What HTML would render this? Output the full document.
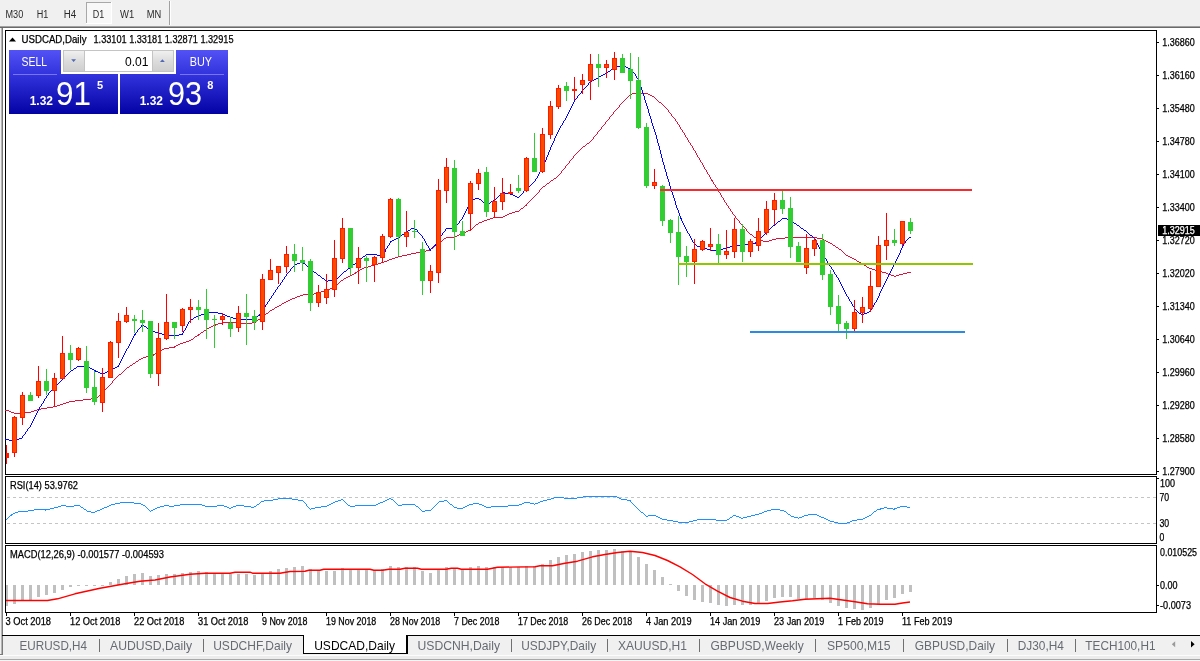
<!DOCTYPE html>
<html><head><meta charset="utf-8"><title>USDCAD,Daily</title>
<style>html,body{margin:0;padding:0;background:#fff;overflow:hidden}svg{display:block}</style></head>
<body>
<svg width="1200" height="661" viewBox="0 0 1200 661" font-family='"Liberation Sans", sans-serif'>
<defs><linearGradient id="gb" x1="0" y1="0" x2="0" y2="1"><stop offset="0" stop-color="#5252f6"/><stop offset="1" stop-color="#3232dc"/></linearGradient><linearGradient id="gp" x1="0" y1="0" x2="0" y2="1"><stop offset="0" stop-color="#3434de"/><stop offset="1" stop-color="#0202a4"/></linearGradient><linearGradient id="gs" x1="0" y1="0" x2="0" y2="1"><stop offset="0" stop-color="#f0f0f0"/><stop offset="0.5" stop-color="#dcdcdc"/><stop offset="1" stop-color="#cfcfcf"/></linearGradient></defs>
<rect x="0" y="0" width="1200" height="661" fill="#fff" />
<g shape-rendering="crispEdges">
<rect x="0" y="0" width="1200" height="26" fill="#f0f0f0" />
<rect x="0" y="26" width="1200" height="1" fill="#a0a0a0" />
<rect x="0" y="27" width="1200" height="1" fill="#696969" />
<rect x="86" y="2" width="26" height="22" fill="#f8f8f8" />
<rect x="86" y="2" width="26" height="1" fill="#a8a8a8" />
<rect x="86" y="2" width="1" height="22" fill="#a8a8a8" />
<rect x="111" y="2" width="1" height="22" fill="#fff" />
<rect x="86" y="23" width="26" height="1" fill="#fff" />
<rect x="169" y="1" width="1" height="24" fill="#a0a0a0" />
<rect x="170" y="1" width="1" height="24" fill="#fff" />
<rect x="0" y="28" width="1" height="608" fill="#f0f0f0" />
<rect x="1" y="28" width="1" height="626" fill="#b4b4b4" />
<rect x="2" y="28" width="1" height="626" fill="#7a7a7a" />
</g>
<text x="5.5" y="18" font-size="10" fill="#2a2a2a" textLength="17.7" lengthAdjust="spacingAndGlyphs" stroke-width="0">M30</text>
<text x="36.7" y="18" font-size="10" fill="#2a2a2a" textLength="11.6" lengthAdjust="spacingAndGlyphs" stroke-width="0">H1</text>
<text x="63.7" y="18" font-size="10" fill="#2a2a2a" textLength="12.5" lengthAdjust="spacingAndGlyphs" stroke-width="0">H4</text>
<text x="92.7" y="18" font-size="10" fill="#2a2a2a" textLength="11.5" lengthAdjust="spacingAndGlyphs" stroke-width="0">D1</text>
<text x="120" y="18" font-size="10" fill="#2a2a2a" textLength="14.2" lengthAdjust="spacingAndGlyphs" stroke-width="0">W1</text>
<text x="146.7" y="18" font-size="10" fill="#2a2a2a" textLength="14.5" lengthAdjust="spacingAndGlyphs" stroke-width="0">MN</text>
<g shape-rendering="crispEdges" fill="none" stroke="#000" stroke-width="1">
<rect x="5.5" y="30.5" width="1151" height="444"/>
<rect x="5.5" y="476.5" width="1151" height="67"/>
<rect x="5.5" y="545.5" width="1151" height="67"/>
</g>
<path fill="#dc143c" shape-rendering="crispEdges" d="M5 410h1v1h-1zM6 410h1v1h-1zM7 410h1v1h-1zM8 410h1v1h-1zM9 411h1v1h-1zM10 411h1v1h-1zM11 412h1v1h-1zM12 412h1v1h-1zM13 412h1v1h-1zM14 413h1v1h-1zM15 413h1v1h-1zM16 413h1v1h-1zM17 413h1v1h-1zM18 413h1v1h-1zM19 413h1v1h-1zM20 413h1v1h-1zM21 412h1v1h-1zM22 412h1v1h-1zM23 412h1v1h-1zM24 412h1v1h-1zM25 412h1v1h-1zM26 412h1v1h-1zM27 412h1v1h-1zM28 412h1v1h-1zM29 412h1v1h-1zM30 412h1v1h-1zM31 411h1v1h-1zM32 411h1v1h-1zM33 411h1v1h-1zM34 410h1v1h-1zM35 410h1v1h-1zM36 410h1v1h-1zM37 409h1v1h-1zM38 409h1v1h-1zM39 409h1v1h-1zM40 409h1v1h-1zM41 408h1v1h-1zM42 408h1v1h-1zM43 408h1v1h-1zM44 408h1v1h-1zM45 408h1v1h-1zM46 408h1v1h-1zM47 407h1v1h-1zM48 407h1v1h-1zM49 407h1v1h-1zM50 407h1v1h-1zM51 407h1v1h-1zM52 407h1v1h-1zM53 406h1v1h-1zM54 406h1v1h-1zM55 406h1v1h-1zM56 406h1v1h-1zM57 405h1v1h-1zM58 405h1v1h-1zM59 405h1v1h-1zM60 404h1v1h-1zM61 404h1v1h-1zM62 404h1v1h-1zM63 403h1v1h-1zM64 403h1v1h-1zM65 403h1v1h-1zM66 402h1v1h-1zM67 402h1v1h-1zM68 402h1v1h-1zM69 401h1v1h-1zM70 401h1v1h-1zM71 401h1v1h-1zM72 401h1v1h-1zM73 401h1v1h-1zM74 401h1v1h-1zM75 400h1v1h-1zM76 400h1v1h-1zM77 400h1v1h-1zM78 400h1v1h-1zM79 400h1v1h-1zM80 400h1v1h-1zM81 400h1v1h-1zM82 400h1v1h-1zM83 399h1v1h-1zM84 399h1v1h-1zM85 399h1v1h-1zM86 399h1v1h-1zM87 399h1v1h-1zM88 399h1v1h-1zM89 399h1v1h-1zM90 399h1v1h-1zM91 398h1v1h-1zM92 398h1v1h-1zM93 398h1v1h-1zM94 398h1v1h-1zM95 398h1v1h-1zM96 398h1v1h-1zM97 397h1v1h-1zM98 396h1v1h-1zM99 395h1v1h-1zM100 394h1v1h-1zM101 393h1v1h-1zM102 392h1v1h-1zM103 391h1v1h-1zM104 390h1v1h-1zM105 389h1v1h-1zM106 388h1v1h-1zM107 387h1v1h-1zM108 386h1v1h-1zM109 385h1v1h-1zM110 384h1v1h-1zM111 383h1v1h-1zM112 381h1v2h-1zM113 380h1v1h-1zM114 379h1v1h-1zM115 378h1v1h-1zM116 377h1v1h-1zM117 376h1v1h-1zM118 375h1v1h-1zM119 374h1v1h-1zM120 374h1v1h-1zM121 373h1v1h-1zM122 372h1v1h-1zM123 371h1v1h-1zM124 370h1v1h-1zM125 369h1v1h-1zM126 368h1v1h-1zM127 367h1v1h-1zM128 367h1v1h-1zM129 366h1v1h-1zM130 365h1v1h-1zM131 365h1v1h-1zM132 364h1v1h-1zM133 363h1v1h-1zM134 363h1v1h-1zM135 362h1v1h-1zM136 361h1v1h-1zM137 361h1v1h-1zM138 360h1v1h-1zM139 359h1v1h-1zM140 359h1v1h-1zM141 358h1v1h-1zM142 358h1v1h-1zM143 357h1v1h-1zM144 357h1v1h-1zM145 357h1v1h-1zM146 356h1v1h-1zM147 356h1v1h-1zM148 356h1v1h-1zM149 356h1v1h-1zM150 355h1v1h-1zM151 355h1v1h-1zM152 355h1v1h-1zM153 354h1v2h-1zM154 354h1v1h-1zM155 353h1v1h-1zM156 353h1v1h-1zM157 352h1v1h-1zM158 351h1v1h-1zM159 351h1v1h-1zM160 350h1v1h-1zM161 350h1v1h-1zM162 349h1v1h-1zM163 349h1v1h-1zM164 348h1v1h-1zM165 348h1v1h-1zM166 348h1v1h-1zM167 348h1v1h-1zM168 348h1v1h-1zM169 347h1v1h-1zM170 347h1v1h-1zM171 347h1v1h-1zM172 347h1v1h-1zM173 347h1v1h-1zM174 346h1v2h-1zM175 346h1v1h-1zM176 345h1v1h-1zM177 345h1v1h-1zM178 344h1v1h-1zM179 344h1v1h-1zM180 343h1v1h-1zM181 343h1v1h-1zM182 343h1v1h-1zM183 342h1v1h-1zM184 342h1v1h-1zM185 342h1v1h-1zM186 341h1v1h-1zM187 341h1v1h-1zM188 341h1v1h-1zM189 340h1v1h-1zM190 340h1v1h-1zM191 339h1v1h-1zM192 339h1v1h-1zM193 338h1v1h-1zM194 337h1v1h-1zM195 336h1v1h-1zM196 336h1v1h-1zM197 335h1v1h-1zM198 334h1v2h-1zM199 334h1v1h-1zM200 333h1v1h-1zM201 332h1v1h-1zM202 332h1v1h-1zM203 331h1v1h-1zM204 330h1v1h-1zM205 330h1v1h-1zM206 329h1v1h-1zM207 328h1v1h-1zM208 328h1v1h-1zM209 327h1v1h-1zM210 327h1v1h-1zM211 326h1v1h-1zM212 326h1v1h-1zM213 325h1v1h-1zM214 325h1v1h-1zM215 324h1v2h-1zM216 324h1v1h-1zM217 324h1v1h-1zM218 323h1v1h-1zM219 323h1v1h-1zM220 323h1v1h-1zM221 323h1v1h-1zM222 322h1v1h-1zM223 322h1v1h-1zM224 322h1v1h-1zM225 322h1v1h-1zM226 322h1v1h-1zM227 322h1v1h-1zM228 322h1v1h-1zM229 322h1v1h-1zM230 322h1v1h-1zM231 322h1v1h-1zM232 322h1v1h-1zM233 322h1v1h-1zM234 322h1v1h-1zM235 322h1v1h-1zM236 322h1v1h-1zM237 323h1v1h-1zM238 323h1v1h-1zM239 323h1v1h-1zM240 323h1v1h-1zM241 323h1v1h-1zM242 323h1v1h-1zM243 323h1v1h-1zM244 323h1v1h-1zM245 323h1v1h-1zM246 323h1v1h-1zM247 323h1v1h-1zM248 323h1v1h-1zM249 323h1v1h-1zM250 323h1v1h-1zM251 323h1v1h-1zM252 322h1v1h-1zM253 322h1v1h-1zM254 322h1v1h-1zM255 322h1v1h-1zM256 321h1v1h-1zM257 320h1v1h-1zM258 319h1v1h-1zM259 319h1v1h-1zM260 318h1v1h-1zM261 317h1v1h-1zM262 316h1v1h-1zM263 315h1v1h-1zM264 315h1v1h-1zM265 314h1v1h-1zM266 313h1v1h-1zM267 313h1v1h-1zM268 312h1v1h-1zM269 311h1v1h-1zM270 310h1v1h-1zM271 310h1v1h-1zM272 309h1v1h-1zM273 309h1v1h-1zM274 308h1v1h-1zM275 307h1v1h-1zM276 307h1v1h-1zM277 306h1v1h-1zM278 306h1v1h-1zM279 305h1v1h-1zM280 305h1v1h-1zM281 304h1v1h-1zM282 303h1v1h-1zM283 303h1v1h-1zM284 302h1v1h-1zM285 302h1v1h-1zM286 301h1v1h-1zM287 301h1v1h-1zM288 300h1v1h-1zM289 300h1v1h-1zM290 299h1v1h-1zM291 299h1v1h-1zM292 298h1v1h-1zM293 298h1v1h-1zM294 298h1v1h-1zM295 297h1v1h-1zM296 297h1v1h-1zM297 296h1v1h-1zM298 296h1v1h-1zM299 296h1v1h-1zM300 295h1v1h-1zM301 295h1v1h-1zM302 295h1v1h-1zM303 294h1v1h-1zM304 294h1v1h-1zM305 294h1v1h-1zM306 294h1v1h-1zM307 294h1v1h-1zM308 294h1v1h-1zM309 294h1v1h-1zM310 294h1v1h-1zM311 294h1v1h-1zM312 294h1v1h-1zM313 294h1v1h-1zM314 293h1v1h-1zM315 293h1v1h-1zM316 293h1v1h-1zM317 293h1v1h-1zM318 293h1v1h-1zM319 292h1v1h-1zM320 292h1v1h-1zM321 291h1v1h-1zM322 291h1v1h-1zM323 291h1v1h-1zM324 290h1v1h-1zM325 290h1v1h-1zM326 290h1v1h-1zM327 289h1v1h-1zM328 289h1v1h-1zM329 289h1v1h-1zM330 288h1v1h-1zM331 288h1v1h-1zM332 288h1v1h-1zM333 287h1v1h-1zM334 287h1v1h-1zM335 286h1v1h-1zM336 285h1v1h-1zM337 284h1v1h-1zM338 283h1v1h-1zM339 282h1v1h-1zM340 281h1v1h-1zM341 280h1v1h-1zM342 280h1v1h-1zM343 279h1v1h-1zM344 278h1v1h-1zM345 278h1v1h-1zM346 277h1v1h-1zM347 277h1v1h-1zM348 276h1v1h-1zM349 276h1v1h-1zM350 275h1v1h-1zM351 275h1v1h-1zM352 274h1v1h-1zM353 274h1v1h-1zM354 273h1v1h-1zM355 272h1v2h-1zM356 272h1v1h-1zM357 271h1v1h-1zM358 271h1v1h-1zM359 270h1v1h-1zM360 269h1v1h-1zM361 269h1v1h-1zM362 268h1v1h-1zM363 268h1v1h-1zM364 267h1v1h-1zM365 267h1v1h-1zM366 267h1v1h-1zM367 267h1v1h-1zM368 266h1v1h-1zM369 266h1v1h-1zM370 266h1v1h-1zM371 265h1v1h-1zM372 265h1v1h-1zM373 265h1v1h-1zM374 265h1v1h-1zM375 264h1v1h-1zM376 264h1v1h-1zM377 264h1v1h-1zM378 263h1v1h-1zM379 263h1v1h-1zM380 263h1v1h-1zM381 262h1v1h-1zM382 262h1v1h-1zM383 262h1v1h-1zM384 261h1v1h-1zM385 261h1v1h-1zM386 261h1v1h-1zM387 260h1v1h-1zM388 260h1v1h-1zM389 259h1v1h-1zM390 259h1v1h-1zM391 259h1v1h-1zM392 258h1v1h-1zM393 258h1v1h-1zM394 258h1v1h-1zM395 257h1v1h-1zM396 257h1v1h-1zM397 257h1v1h-1zM398 256h1v1h-1zM399 256h1v1h-1zM400 256h1v1h-1zM401 256h1v1h-1zM402 255h1v1h-1zM403 255h1v1h-1zM404 255h1v1h-1zM405 255h1v1h-1zM406 255h1v1h-1zM407 254h1v1h-1zM408 254h1v1h-1zM409 254h1v1h-1zM410 254h1v1h-1zM411 253h1v1h-1zM412 253h1v1h-1zM413 253h1v1h-1zM414 253h1v1h-1zM415 253h1v1h-1zM416 252h1v1h-1zM417 252h1v1h-1zM418 252h1v1h-1zM419 252h1v1h-1zM420 252h1v1h-1zM421 252h1v1h-1zM422 252h1v1h-1zM423 251h1v1h-1zM424 251h1v1h-1zM425 251h1v1h-1zM426 250h1v1h-1zM427 250h1v1h-1zM428 250h1v1h-1zM429 250h1v1h-1zM430 249h1v2h-1zM431 248h1v1h-1zM432 248h1v1h-1zM433 247h1v1h-1zM434 246h1v1h-1zM435 245h1v1h-1zM436 244h1v1h-1zM437 244h1v1h-1zM438 243h1v1h-1zM439 242h1v1h-1zM440 241h1v1h-1zM441 241h1v1h-1zM442 240h1v1h-1zM443 239h1v1h-1zM444 238h1v1h-1zM445 238h1v1h-1zM446 237h1v1h-1zM447 237h1v1h-1zM448 237h1v1h-1zM449 237h1v1h-1zM450 237h1v1h-1zM451 237h1v1h-1zM452 237h1v1h-1zM453 237h1v1h-1zM454 237h1v1h-1zM455 236h1v1h-1zM456 236h1v1h-1zM457 235h1v1h-1zM458 235h1v1h-1zM459 234h1v1h-1zM460 234h1v1h-1zM461 233h1v1h-1zM462 233h1v1h-1zM463 232h1v1h-1zM464 232h1v1h-1zM465 232h1v1h-1zM466 231h1v1h-1zM467 231h1v1h-1zM468 230h1v1h-1zM469 230h1v1h-1zM470 230h1v1h-1zM471 229h1v1h-1zM472 228h1v1h-1zM473 227h1v1h-1zM474 226h1v1h-1zM475 225h1v1h-1zM476 224h1v1h-1zM477 224h1v1h-1zM478 223h1v1h-1zM479 222h1v1h-1zM480 222h1v1h-1zM481 222h1v1h-1zM482 221h1v1h-1zM483 221h1v1h-1zM484 220h1v1h-1zM485 220h1v1h-1zM486 220h1v1h-1zM487 219h1v1h-1zM488 219h1v1h-1zM489 219h1v1h-1zM490 218h1v1h-1zM491 218h1v1h-1zM492 218h1v1h-1zM493 217h1v1h-1zM494 217h1v1h-1zM495 217h1v1h-1zM496 217h1v1h-1zM497 217h1v1h-1zM498 217h1v1h-1zM499 217h1v1h-1zM500 217h1v1h-1zM501 217h1v1h-1zM502 217h1v1h-1zM503 216h1v1h-1zM504 216h1v1h-1zM505 215h1v1h-1zM506 215h1v1h-1zM507 214h1v1h-1zM508 214h1v1h-1zM509 213h1v1h-1zM510 213h1v1h-1zM511 213h1v1h-1zM512 212h1v1h-1zM513 212h1v1h-1zM514 212h1v1h-1zM515 211h1v1h-1zM516 211h1v1h-1zM517 211h1v1h-1zM518 211h1v1h-1zM519 210h1v1h-1zM520 209h1v1h-1zM521 208h1v1h-1zM522 208h1v1h-1zM523 207h1v1h-1zM524 206h1v1h-1zM525 205h1v1h-1zM526 204h1v2h-1zM527 203h1v1h-1zM528 202h1v1h-1zM529 201h1v1h-1zM530 200h1v1h-1zM531 199h1v1h-1zM532 198h1v1h-1zM533 197h1v1h-1zM534 196h1v1h-1zM535 195h1v1h-1zM536 194h1v1h-1zM537 193h1v1h-1zM538 192h1v1h-1zM539 190h1v2h-1zM540 189h1v1h-1zM541 188h1v1h-1zM542 187h1v1h-1zM543 186h1v1h-1zM544 186h1v1h-1zM545 185h1v1h-1zM546 184h1v1h-1zM547 183h1v1h-1zM548 183h1v1h-1zM549 182h1v1h-1zM550 181h1v1h-1zM551 180h1v1h-1zM552 180h1v1h-1zM553 179h1v1h-1zM554 178h1v1h-1zM555 178h1v1h-1zM556 177h1v1h-1zM557 176h1v1h-1zM558 175h1v1h-1zM559 174h1v1h-1zM560 173h1v1h-1zM561 171h1v2h-1zM562 170h1v1h-1zM563 169h1v1h-1zM564 168h1v1h-1zM565 166h1v2h-1zM566 165h1v1h-1zM567 164h1v1h-1zM568 163h1v1h-1zM569 161h1v2h-1zM570 160h1v1h-1zM571 159h1v1h-1zM572 158h1v1h-1zM573 156h1v2h-1zM574 155h1v1h-1zM575 154h1v1h-1zM576 153h1v1h-1zM577 152h1v1h-1zM578 151h1v1h-1zM579 150h1v1h-1zM580 149h1v1h-1zM581 148h1v1h-1zM582 147h1v1h-1zM583 146h1v1h-1zM584 146h1v1h-1zM585 145h1v1h-1zM586 144h1v1h-1zM587 143h1v1h-1zM588 143h1v1h-1zM589 142h1v1h-1zM590 141h1v1h-1zM591 140h1v1h-1zM592 139h1v1h-1zM593 137h1v2h-1zM594 136h1v1h-1zM595 135h1v1h-1zM596 134h1v1h-1zM597 132h1v2h-1zM598 131h1v1h-1zM599 130h1v1h-1zM600 129h1v1h-1zM601 127h1v2h-1zM602 126h1v1h-1zM603 125h1v1h-1zM604 124h1v1h-1zM605 122h1v2h-1zM606 121h1v1h-1zM607 120h1v1h-1zM608 119h1v1h-1zM609 117h1v2h-1zM610 116h1v1h-1zM611 115h1v1h-1zM612 114h1v1h-1zM613 112h1v2h-1zM614 111h1v1h-1zM615 110h1v1h-1zM616 109h1v1h-1zM617 108h1v1h-1zM618 107h1v1h-1zM619 105h1v2h-1zM620 104h1v1h-1zM621 103h1v1h-1zM622 102h1v1h-1zM623 101h1v1h-1zM624 100h1v1h-1zM625 99h1v1h-1zM626 98h1v1h-1zM627 97h1v1h-1zM628 96h1v1h-1zM629 95h1v1h-1zM630 94h1v1h-1zM631 94h1v1h-1zM632 93h1v1h-1zM633 93h1v1h-1zM634 93h1v1h-1zM635 93h1v1h-1zM636 93h1v1h-1zM637 93h1v1h-1zM638 93h1v1h-1zM639 93h1v1h-1zM640 93h1v1h-1zM641 93h1v1h-1zM642 93h1v1h-1zM643 93h1v1h-1zM644 93h1v1h-1zM645 93h1v1h-1zM646 93h1v1h-1zM647 93h1v1h-1zM648 94h1v1h-1zM649 94h1v1h-1zM650 95h1v1h-1zM651 95h1v1h-1zM652 96h1v1h-1zM653 96h1v1h-1zM654 97h1v1h-1zM655 98h1v1h-1zM656 99h1v1h-1zM657 100h1v1h-1zM658 101h1v1h-1zM659 102h1v1h-1zM660 102h1v1h-1zM661 103h1v1h-1zM662 104h1v1h-1zM663 105h1v1h-1zM664 106h1v1h-1zM665 107h1v1h-1zM666 108h1v1h-1zM667 109h1v1h-1zM668 110h1v2h-1zM669 112h1v1h-1zM670 113h1v1h-1zM671 114h1v2h-1zM672 116h1v1h-1zM673 117h1v1h-1zM674 118h1v1h-1zM675 119h1v2h-1zM676 121h1v1h-1zM677 122h1v2h-1zM678 124h1v1h-1zM679 125h1v2h-1zM680 127h1v2h-1zM681 129h1v1h-1zM682 130h1v2h-1zM683 132h1v1h-1zM684 133h1v2h-1zM685 135h1v2h-1zM686 137h1v1h-1zM687 138h1v2h-1zM688 140h1v2h-1zM689 142h1v1h-1zM690 143h1v2h-1zM691 145h1v1h-1zM692 146h1v2h-1zM693 148h1v2h-1zM694 150h1v1h-1zM695 151h1v2h-1zM696 153h1v2h-1zM697 155h1v2h-1zM698 157h1v1h-1zM699 158h1v2h-1zM700 160h1v2h-1zM701 162h1v1h-1zM702 163h1v2h-1zM703 165h1v2h-1zM704 167h1v2h-1zM705 169h1v1h-1zM706 170h1v2h-1zM707 172h1v2h-1zM708 174h1v1h-1zM709 175h1v2h-1zM710 177h1v2h-1zM711 179h1v2h-1zM712 180h1v2h-1zM713 182h1v2h-1zM714 184h1v1h-1zM715 185h1v2h-1zM716 187h1v1h-1zM717 188h1v2h-1zM718 190h1v2h-1zM719 192h1v1h-1zM720 193h1v2h-1zM721 195h1v2h-1zM722 197h1v1h-1zM723 198h1v2h-1zM724 200h1v2h-1zM725 202h1v1h-1zM726 203h1v2h-1zM727 205h1v1h-1zM728 206h1v2h-1zM729 208h1v1h-1zM730 209h1v2h-1zM731 211h1v1h-1zM732 212h1v2h-1zM733 214h1v1h-1zM734 215h1v1h-1zM735 216h1v2h-1zM736 218h1v1h-1zM737 219h1v1h-1zM738 220h1v1h-1zM739 221h1v2h-1zM740 223h1v1h-1zM741 224h1v1h-1zM742 225h1v1h-1zM743 226h1v1h-1zM744 227h1v1h-1zM745 228h1v1h-1zM746 229h1v2h-1zM747 231h1v1h-1zM748 232h1v1h-1zM749 233h1v1h-1zM750 234h1v1h-1zM751 234h1v1h-1zM752 235h1v1h-1zM753 236h1v1h-1zM754 237h1v1h-1zM755 237h1v1h-1zM756 237h1v1h-1zM757 238h1v1h-1zM758 238h1v1h-1zM759 238h1v1h-1zM760 239h1v1h-1zM761 240h1v1h-1zM762 240h1v1h-1zM763 241h1v1h-1zM764 241h1v1h-1zM765 241h1v1h-1zM766 241h1v1h-1zM767 241h1v1h-1zM768 241h1v1h-1zM769 240h1v1h-1zM770 240h1v1h-1zM771 240h1v1h-1zM772 239h1v1h-1zM773 239h1v1h-1zM774 239h1v1h-1zM775 239h1v1h-1zM776 238h1v1h-1zM777 238h1v1h-1zM778 238h1v1h-1zM779 238h1v1h-1zM780 238h1v1h-1zM781 238h1v1h-1zM782 238h1v1h-1zM783 238h1v1h-1zM784 238h1v1h-1zM785 237h1v1h-1zM786 237h1v1h-1zM787 237h1v1h-1zM788 237h1v1h-1zM789 237h1v1h-1zM790 237h1v1h-1zM791 237h1v1h-1zM792 237h1v1h-1zM793 237h1v1h-1zM794 237h1v1h-1zM795 237h1v1h-1zM796 237h1v1h-1zM797 237h1v1h-1zM798 237h1v1h-1zM799 237h1v1h-1zM800 237h1v1h-1zM801 237h1v1h-1zM802 237h1v1h-1zM803 237h1v1h-1zM804 237h1v1h-1zM805 237h1v1h-1zM806 237h1v1h-1zM807 237h1v1h-1zM808 237h1v1h-1zM809 237h1v1h-1zM810 237h1v1h-1zM811 237h1v1h-1zM812 237h1v1h-1zM813 237h1v1h-1zM814 237h1v1h-1zM815 237h1v1h-1zM816 237h1v1h-1zM817 238h1v1h-1zM818 238h1v1h-1zM819 238h1v1h-1zM820 238h1v1h-1zM821 238h1v1h-1zM822 239h1v1h-1zM823 239h1v1h-1zM824 240h1v1h-1zM825 240h1v1h-1zM826 241h1v1h-1zM827 241h1v1h-1zM828 242h1v1h-1zM829 242h1v1h-1zM830 243h1v1h-1zM831 243h1v1h-1zM832 244h1v1h-1zM833 245h1v1h-1zM834 245h1v1h-1zM835 246h1v1h-1zM836 247h1v1h-1zM837 247h1v1h-1zM838 248h1v1h-1zM839 249h1v1h-1zM840 249h1v1h-1zM841 250h1v1h-1zM842 251h1v1h-1zM843 252h1v1h-1zM844 253h1v1h-1zM845 254h1v1h-1zM846 255h1v1h-1zM847 255h1v1h-1zM848 256h1v1h-1zM849 256h1v1h-1zM850 257h1v1h-1zM851 257h1v1h-1zM852 258h1v1h-1zM853 258h1v1h-1zM854 259h1v1h-1zM855 259h1v1h-1zM856 260h1v1h-1zM857 261h1v1h-1zM858 261h1v1h-1zM859 262h1v1h-1zM860 262h1v1h-1zM861 263h1v1h-1zM862 264h1v1h-1zM863 264h1v1h-1zM864 265h1v1h-1zM865 265h1v1h-1zM866 266h1v1h-1zM867 267h1v1h-1zM868 267h1v1h-1zM869 268h1v1h-1zM870 268h1v1h-1zM871 268h1v1h-1zM872 269h1v1h-1zM873 269h1v1h-1zM874 269h1v1h-1zM875 270h1v1h-1zM876 270h1v1h-1zM877 270h1v1h-1zM878 270h1v1h-1zM879 271h1v1h-1zM880 271h1v1h-1zM881 271h1v1h-1zM882 272h1v1h-1zM883 272h1v1h-1zM884 272h1v1h-1zM885 272h1v1h-1zM886 273h1v1h-1zM887 273h1v1h-1zM888 274h1v1h-1zM889 274h1v1h-1zM890 274h1v1h-1zM891 275h1v1h-1zM892 275h1v1h-1zM893 275h1v1h-1zM894 276h1v1h-1zM895 276h1v1h-1zM896 275h1v1h-1zM897 275h1v1h-1zM898 275h1v1h-1zM899 274h1v1h-1zM900 274h1v1h-1zM901 274h1v1h-1zM902 274h1v1h-1zM903 273h1v1h-1zM904 273h1v1h-1zM905 273h1v1h-1zM906 273h1v1h-1zM907 272h1v1h-1zM908 272h1v1h-1zM909 272h1v1h-1zM910 272h1v1h-1z"/>
<path fill="#0000ff" shape-rendering="crispEdges" d="M5 439h1v1h-1zM6 439h1v1h-1zM7 439h1v1h-1zM8 439h1v1h-1zM9 440h1v1h-1zM10 440h1v1h-1zM11 440h1v1h-1zM12 440h1v1h-1zM13 440h1v1h-1zM14 439h1v1h-1zM15 439h1v1h-1zM16 439h1v1h-1zM17 439h1v1h-1zM18 439h1v1h-1zM19 438h1v1h-1zM20 438h1v1h-1zM21 438h1v1h-1zM22 436h1v2h-1zM23 435h1v1h-1zM24 434h1v1h-1zM25 432h1v2h-1zM26 431h1v1h-1zM27 429h1v2h-1zM28 428h1v1h-1zM29 427h1v1h-1zM30 425h1v2h-1zM31 423h1v2h-1zM32 421h1v2h-1zM33 419h1v2h-1zM34 417h1v2h-1zM35 415h1v2h-1zM36 413h1v2h-1zM37 411h1v2h-1zM38 409h1v2h-1zM39 407h1v2h-1zM40 406h1v1h-1zM41 404h1v2h-1zM42 403h1v1h-1zM43 401h1v2h-1zM44 399h1v2h-1zM45 398h1v1h-1zM46 396h1v2h-1zM47 395h1v1h-1zM48 393h1v2h-1zM49 392h1v1h-1zM50 391h1v1h-1zM51 390h1v1h-1zM52 389h1v1h-1zM53 388h1v1h-1zM54 387h1v1h-1zM55 386h1v1h-1zM56 385h1v1h-1zM57 384h1v1h-1zM58 383h1v1h-1zM59 382h1v1h-1zM60 381h1v1h-1zM61 380h1v1h-1zM62 379h1v1h-1zM63 378h1v1h-1zM64 377h1v1h-1zM65 376h1v1h-1zM66 375h1v1h-1zM67 374h1v1h-1zM68 373h1v1h-1zM69 372h1v1h-1zM70 371h1v1h-1zM71 370h1v1h-1zM72 370h1v1h-1zM73 369h1v1h-1zM74 368h1v1h-1zM75 368h1v1h-1zM76 367h1v1h-1zM77 366h1v1h-1zM78 366h1v1h-1zM79 366h1v1h-1zM80 366h1v1h-1zM81 366h1v1h-1zM82 366h1v1h-1zM83 366h1v1h-1zM84 366h1v1h-1zM85 366h1v1h-1zM86 366h1v1h-1zM87 366h1v1h-1zM88 367h1v1h-1zM89 367h1v1h-1zM90 368h1v1h-1zM91 368h1v1h-1zM92 369h1v1h-1zM93 369h1v1h-1zM94 370h1v1h-1zM95 370h1v2h-1zM96 371h1v1h-1zM97 371h1v1h-1zM98 372h1v1h-1zM99 372h1v1h-1zM100 373h1v1h-1zM101 373h1v1h-1zM102 374h1v1h-1zM103 373h1v1h-1zM104 373h1v1h-1zM105 372h1v1h-1zM106 372h1v1h-1zM107 371h1v1h-1zM108 371h1v1h-1zM109 371h1v1h-1zM110 370h1v1h-1zM111 369h1v1h-1zM112 369h1v1h-1zM113 368h1v1h-1zM114 368h1v1h-1zM115 367h1v1h-1zM116 367h1v1h-1zM117 366h1v1h-1zM118 365h1v2h-1zM119 363h1v2h-1zM120 361h1v2h-1zM121 359h1v2h-1zM122 357h1v2h-1zM123 355h1v2h-1zM124 353h1v2h-1zM125 351h1v2h-1zM126 349h1v2h-1zM127 348h1v1h-1zM128 346h1v2h-1zM129 344h1v2h-1zM130 342h1v2h-1zM131 340h1v2h-1zM132 338h1v2h-1zM133 336h1v2h-1zM134 334h1v2h-1zM135 333h1v2h-1zM136 332h1v1h-1zM137 330h1v2h-1zM138 329h1v1h-1zM139 328h1v1h-1zM140 327h1v1h-1zM141 325h1v2h-1zM142 324h1v1h-1zM143 325h1v1h-1zM144 326h1v1h-1zM145 326h1v1h-1zM146 327h1v1h-1zM147 328h1v1h-1zM148 328h1v1h-1zM149 329h1v1h-1zM150 330h1v1h-1zM151 330h1v1h-1zM152 330h1v1h-1zM153 331h1v1h-1zM154 331h1v1h-1zM155 332h1v1h-1zM156 332h1v1h-1zM157 332h1v1h-1zM158 333h1v1h-1zM159 333h1v1h-1zM160 333h1v1h-1zM161 333h1v1h-1zM162 334h1v1h-1zM163 334h1v1h-1zM164 334h1v1h-1zM165 334h1v1h-1zM166 334h1v2h-1zM167 335h1v1h-1zM168 335h1v1h-1zM169 335h1v1h-1zM170 335h1v1h-1zM171 335h1v1h-1zM172 335h1v1h-1zM173 335h1v1h-1zM174 335h1v1h-1zM175 335h1v1h-1zM176 335h1v1h-1zM177 335h1v1h-1zM178 335h1v1h-1zM179 334h1v1h-1zM180 334h1v1h-1zM181 334h1v1h-1zM182 333h1v2h-1zM183 331h1v2h-1zM184 330h1v1h-1zM185 328h1v2h-1zM186 326h1v2h-1zM187 324h1v2h-1zM188 322h1v2h-1zM189 321h1v1h-1zM190 320h1v1h-1zM191 319h1v1h-1zM192 319h1v1h-1zM193 318h1v1h-1zM194 317h1v1h-1zM195 317h1v1h-1zM196 316h1v1h-1zM197 316h1v1h-1zM198 315h1v1h-1zM199 315h1v1h-1zM200 315h1v1h-1zM201 314h1v1h-1zM202 314h1v1h-1zM203 314h1v1h-1zM204 313h1v1h-1zM205 313h1v1h-1zM206 313h1v1h-1zM207 313h1v1h-1zM208 313h1v1h-1zM209 312h1v1h-1zM210 312h1v1h-1zM211 312h1v1h-1zM212 312h1v1h-1zM213 312h1v1h-1zM214 312h1v1h-1zM215 312h1v1h-1zM216 312h1v1h-1zM217 312h1v1h-1zM218 313h1v1h-1zM219 313h1v1h-1zM220 313h1v1h-1zM221 313h1v1h-1zM222 314h1v1h-1zM223 314h1v1h-1zM224 314h1v1h-1zM225 315h1v1h-1zM226 315h1v1h-1zM227 316h1v1h-1zM228 316h1v1h-1zM229 316h1v1h-1zM230 317h1v1h-1zM231 317h1v1h-1zM232 317h1v1h-1zM233 318h1v1h-1zM234 318h1v1h-1zM235 318h1v1h-1zM236 319h1v1h-1zM237 319h1v1h-1zM238 319h1v1h-1zM239 319h1v1h-1zM240 319h1v1h-1zM241 319h1v1h-1zM242 319h1v1h-1zM243 319h1v1h-1zM244 319h1v1h-1zM245 319h1v1h-1zM246 319h1v1h-1zM247 319h1v1h-1zM248 319h1v1h-1zM249 319h1v1h-1zM250 319h1v1h-1zM251 319h1v1h-1zM252 319h1v1h-1zM253 319h1v1h-1zM254 319h1v1h-1zM255 318h1v2h-1zM256 317h1v1h-1zM257 316h1v1h-1zM258 315h1v1h-1zM259 314h1v2h-1zM260 313h1v1h-1zM261 311h1v2h-1zM262 310h1v1h-1zM263 308h1v2h-1zM264 307h1v1h-1zM265 305h1v2h-1zM266 304h1v1h-1zM267 302h1v2h-1zM268 301h1v1h-1zM269 299h1v2h-1zM270 298h1v1h-1zM271 296h1v2h-1zM272 295h1v1h-1zM273 293h1v2h-1zM274 292h1v1h-1zM275 290h1v2h-1zM276 289h1v1h-1zM277 287h1v2h-1zM278 286h1v1h-1zM279 285h1v1h-1zM280 283h1v2h-1zM281 282h1v1h-1zM282 280h1v2h-1zM283 279h1v1h-1zM284 277h1v2h-1zM285 276h1v1h-1zM286 274h1v2h-1zM287 273h1v1h-1zM288 272h1v1h-1zM289 271h1v1h-1zM290 269h1v2h-1zM291 268h1v1h-1zM292 267h1v1h-1zM293 266h1v1h-1zM294 265h1v1h-1zM295 264h1v1h-1zM296 264h1v1h-1zM297 263h1v1h-1zM298 263h1v1h-1zM299 263h1v1h-1zM300 262h1v1h-1zM301 262h1v1h-1zM302 262h1v1h-1zM303 263h1v1h-1zM304 263h1v1h-1zM305 264h1v1h-1zM306 265h1v1h-1zM307 266h1v1h-1zM308 267h1v1h-1zM309 268h1v1h-1zM310 269h1v1h-1zM311 269h1v1h-1zM312 270h1v1h-1zM313 271h1v1h-1zM314 272h1v1h-1zM315 272h1v1h-1zM316 273h1v1h-1zM317 274h1v1h-1zM318 275h1v1h-1zM319 275h1v1h-1zM320 276h1v1h-1zM321 277h1v1h-1zM322 278h1v1h-1zM323 278h1v1h-1zM324 279h1v1h-1zM325 280h1v1h-1zM326 281h1v1h-1zM327 281h1v1h-1zM328 280h1v1h-1zM329 280h1v1h-1zM330 280h1v1h-1zM331 280h1v1h-1zM332 280h1v1h-1zM333 280h1v1h-1zM334 279h1v1h-1zM335 279h1v1h-1zM336 279h1v1h-1zM337 278h1v1h-1zM338 277h1v1h-1zM339 276h1v1h-1zM340 275h1v1h-1zM341 274h1v1h-1zM342 273h1v1h-1zM343 272h1v1h-1zM344 271h1v1h-1zM345 271h1v1h-1zM346 270h1v1h-1zM347 269h1v1h-1zM348 268h1v1h-1zM349 268h1v1h-1zM350 267h1v1h-1zM351 266h1v1h-1zM352 265h1v1h-1zM353 264h1v1h-1zM354 264h1v1h-1zM355 263h1v1h-1zM356 262h1v1h-1zM357 261h1v1h-1zM358 260h1v1h-1zM359 260h1v1h-1zM360 259h1v1h-1zM361 258h1v1h-1zM362 257h1v1h-1zM363 256h1v1h-1zM364 256h1v1h-1zM365 255h1v1h-1zM366 254h1v1h-1zM367 254h1v1h-1zM368 254h1v1h-1zM369 254h1v1h-1zM370 254h1v1h-1zM371 254h1v1h-1zM372 254h1v1h-1zM373 254h1v1h-1zM374 254h1v1h-1zM375 254h1v1h-1zM376 254h1v1h-1zM377 255h1v1h-1zM378 255h1v1h-1zM379 255h1v1h-1zM380 255h1v1h-1zM381 254h1v1h-1zM382 253h1v1h-1zM383 252h1v1h-1zM384 251h1v1h-1zM385 249h1v3h-1zM386 248h1v1h-1zM387 246h1v2h-1zM388 245h1v1h-1zM389 243h1v2h-1zM390 241h1v2h-1zM391 241h1v1h-1zM392 240h1v1h-1zM393 240h1v1h-1zM394 239h1v1h-1zM395 239h1v1h-1zM396 238h1v1h-1zM397 238h1v1h-1zM398 238h1v1h-1zM399 237h1v1h-1zM400 236h1v1h-1zM401 235h1v1h-1zM402 234h1v1h-1zM403 234h1v1h-1zM404 233h1v1h-1zM405 232h1v1h-1zM406 231h1v1h-1zM407 231h1v1h-1zM408 230h1v1h-1zM409 230h1v1h-1zM410 229h1v1h-1zM411 228h1v1h-1zM412 228h1v1h-1zM413 228h1v1h-1zM414 228h1v1h-1zM415 229h1v1h-1zM416 229h1v1h-1zM417 230h1v2h-1zM418 232h1v1h-1zM419 233h1v1h-1zM420 234h1v1h-1zM421 235h1v1h-1zM422 236h1v2h-1zM423 238h1v1h-1zM424 239h1v2h-1zM425 241h1v2h-1zM426 243h1v2h-1zM427 245h1v1h-1zM428 246h1v2h-1zM429 248h1v2h-1zM430 249h1v2h-1zM431 248h1v1h-1zM432 247h1v1h-1zM433 246h1v1h-1zM434 245h1v1h-1zM435 244h1v2h-1zM436 242h1v2h-1zM437 241h1v1h-1zM438 239h1v2h-1zM439 238h1v1h-1zM440 236h1v2h-1zM441 235h1v1h-1zM442 233h1v2h-1zM443 232h1v1h-1zM444 231h1v1h-1zM445 229h1v2h-1zM446 228h1v1h-1zM447 228h1v1h-1zM448 228h1v1h-1zM449 228h1v1h-1zM450 228h1v1h-1zM451 228h1v1h-1zM452 228h1v1h-1zM453 228h1v1h-1zM454 227h1v2h-1zM455 226h1v1h-1zM456 225h1v1h-1zM457 224h1v1h-1zM458 223h1v1h-1zM459 221h1v2h-1zM460 220h1v1h-1zM461 219h1v1h-1zM462 217h1v2h-1zM463 215h1v2h-1zM464 213h1v2h-1zM465 211h1v2h-1zM466 209h1v2h-1zM467 207h1v2h-1zM468 206h1v1h-1zM469 204h1v2h-1zM470 203h1v1h-1zM471 201h1v2h-1zM472 200h1v1h-1zM473 199h1v1h-1zM474 199h1v1h-1zM475 198h1v1h-1zM476 198h1v1h-1zM477 198h1v1h-1zM478 198h1v1h-1zM479 199h1v1h-1zM480 199h1v1h-1zM481 200h1v1h-1zM482 201h1v1h-1zM483 202h1v1h-1zM484 203h1v1h-1zM485 204h1v1h-1zM486 205h1v1h-1zM487 204h1v1h-1zM488 203h1v1h-1zM489 203h1v1h-1zM490 202h1v1h-1zM491 201h1v1h-1zM492 201h1v1h-1zM493 200h1v1h-1zM494 200h1v1h-1zM495 199h1v1h-1zM496 198h1v1h-1zM497 197h1v1h-1zM498 196h1v1h-1zM499 195h1v1h-1zM500 194h1v1h-1zM501 193h1v1h-1zM502 192h1v1h-1zM503 192h1v1h-1zM504 192h1v1h-1zM505 193h1v1h-1zM506 193h1v1h-1zM507 193h1v1h-1zM508 193h1v1h-1zM509 193h1v1h-1zM510 194h1v1h-1zM511 194h1v1h-1zM512 194h1v1h-1zM513 195h1v1h-1zM514 195h1v1h-1zM515 196h1v1h-1zM516 196h1v1h-1zM517 197h1v1h-1zM518 197h1v1h-1zM519 196h1v1h-1zM520 195h1v1h-1zM521 194h1v1h-1zM522 193h1v1h-1zM523 191h1v2h-1zM524 190h1v1h-1zM525 189h1v1h-1zM526 188h1v1h-1zM527 187h1v1h-1zM528 187h1v1h-1zM529 186h1v1h-1zM530 185h1v1h-1zM531 184h1v1h-1zM532 183h1v1h-1zM533 182h1v1h-1zM534 181h1v1h-1zM535 179h1v2h-1zM536 178h1v1h-1zM537 176h1v2h-1zM538 174h1v2h-1zM539 172h1v2h-1zM540 171h1v1h-1zM541 169h1v2h-1zM542 167h1v2h-1zM543 165h1v2h-1zM544 162h1v3h-1zM545 160h1v2h-1zM546 157h1v3h-1zM547 155h1v2h-1zM548 152h1v3h-1zM549 150h1v2h-1zM550 147h1v3h-1zM551 145h1v2h-1zM552 143h1v2h-1zM553 141h1v2h-1zM554 138h1v3h-1zM555 136h1v2h-1zM556 134h1v2h-1zM557 132h1v2h-1zM558 130h1v2h-1zM559 128h1v2h-1zM560 126h1v2h-1zM561 125h1v1h-1zM562 123h1v2h-1zM563 121h1v2h-1zM564 120h1v1h-1zM565 118h1v2h-1zM566 116h1v2h-1zM567 114h1v2h-1zM568 112h1v2h-1zM569 110h1v2h-1zM570 108h1v2h-1zM571 106h1v2h-1zM572 104h1v2h-1zM573 102h1v2h-1zM574 100h1v2h-1zM575 99h1v1h-1zM576 98h1v1h-1zM577 96h1v2h-1zM578 95h1v1h-1zM579 94h1v1h-1zM580 93h1v1h-1zM581 91h1v2h-1zM582 90h1v1h-1zM583 89h1v1h-1zM584 88h1v1h-1zM585 87h1v1h-1zM586 86h1v1h-1zM587 85h1v1h-1zM588 83h1v2h-1zM589 82h1v1h-1zM590 81h1v1h-1zM591 81h1v1h-1zM592 80h1v1h-1zM593 80h1v1h-1zM594 79h1v1h-1zM595 79h1v1h-1zM596 78h1v1h-1zM597 78h1v1h-1zM598 77h1v1h-1zM599 76h1v1h-1zM600 76h1v1h-1zM601 75h1v1h-1zM602 75h1v1h-1zM603 74h1v1h-1zM604 74h1v1h-1zM605 73h1v1h-1zM606 73h1v1h-1zM607 72h1v1h-1zM608 71h1v1h-1zM609 71h1v1h-1zM610 70h1v1h-1zM611 69h1v1h-1zM612 68h1v1h-1zM613 68h1v1h-1zM614 67h1v1h-1zM615 67h1v1h-1zM616 66h1v1h-1zM617 66h1v1h-1zM618 66h1v1h-1zM619 66h1v1h-1zM620 66h1v1h-1zM621 66h1v1h-1zM622 66h1v1h-1zM623 66h1v1h-1zM624 66h1v1h-1zM625 66h1v1h-1zM626 67h1v1h-1zM627 67h1v1h-1zM628 68h1v1h-1zM629 68h1v1h-1zM630 69h1v1h-1zM631 70h1v1h-1zM632 71h1v1h-1zM633 72h1v1h-1zM634 73h1v1h-1zM635 74h1v2h-1zM636 76h1v2h-1zM637 78h1v1h-1zM638 79h1v2h-1zM639 81h1v3h-1zM640 84h1v3h-1zM641 87h1v3h-1zM642 90h1v3h-1zM643 93h1v3h-1zM644 96h1v4h-1zM645 100h1v3h-1zM646 103h1v3h-1zM647 106h1v3h-1zM648 109h1v4h-1zM649 113h1v3h-1zM650 116h1v3h-1zM651 119h1v4h-1zM652 123h1v3h-1zM653 126h1v3h-1zM654 129h1v3h-1zM655 132h1v3h-1zM656 135h1v4h-1zM657 139h1v4h-1zM658 143h1v3h-1zM659 146h1v4h-1zM660 150h1v4h-1zM661 154h1v4h-1zM662 158h1v4h-1zM663 162h1v3h-1zM664 165h1v4h-1zM665 169h1v3h-1zM666 172h1v4h-1zM667 176h1v3h-1zM668 179h1v3h-1zM669 182h1v4h-1zM670 186h1v3h-1zM671 189h1v3h-1zM672 192h1v3h-1zM673 195h1v3h-1zM674 198h1v3h-1zM675 201h1v4h-1zM676 205h1v3h-1zM677 208h1v2h-1zM678 210h1v3h-1zM679 213h1v3h-1zM680 216h1v3h-1zM681 218h1v3h-1zM682 221h1v2h-1zM683 223h1v2h-1zM684 225h1v2h-1zM685 227h1v2h-1zM686 229h1v2h-1zM687 231h1v2h-1zM688 233h1v1h-1zM689 234h1v2h-1zM690 236h1v2h-1zM691 238h1v2h-1zM692 240h1v2h-1zM693 242h1v1h-1zM694 243h1v2h-1zM695 244h1v1h-1zM696 245h1v1h-1zM697 246h1v1h-1zM698 246h1v1h-1zM699 246h1v1h-1zM700 247h1v1h-1zM701 247h1v1h-1zM702 247h1v1h-1zM703 247h1v1h-1zM704 248h1v1h-1zM705 248h1v1h-1zM706 248h1v1h-1zM707 249h1v1h-1zM708 249h1v1h-1zM709 249h1v1h-1zM710 250h1v1h-1zM711 250h1v1h-1zM712 250h1v1h-1zM713 250h1v1h-1zM714 250h1v1h-1zM715 250h1v1h-1zM716 250h1v1h-1zM717 250h1v1h-1zM718 250h1v1h-1zM719 249h1v1h-1zM720 249h1v1h-1zM721 249h1v1h-1zM722 249h1v1h-1zM723 248h1v1h-1zM724 248h1v1h-1zM725 248h1v1h-1zM726 248h1v1h-1zM727 247h1v1h-1zM728 247h1v1h-1zM729 247h1v1h-1zM730 246h1v1h-1zM731 246h1v1h-1zM732 246h1v1h-1zM733 245h1v1h-1zM734 245h1v1h-1zM735 245h1v1h-1zM736 245h1v1h-1zM737 245h1v1h-1zM738 245h1v1h-1zM739 245h1v1h-1zM740 245h1v1h-1zM741 245h1v1h-1zM742 245h1v1h-1zM743 245h1v1h-1zM744 245h1v1h-1zM745 244h1v1h-1zM746 244h1v1h-1zM747 244h1v1h-1zM748 244h1v1h-1zM749 244h1v1h-1zM750 244h1v1h-1zM751 243h1v1h-1zM752 243h1v1h-1zM753 243h1v1h-1zM754 243h1v1h-1zM755 242h1v2h-1zM756 241h1v1h-1zM757 240h1v1h-1zM758 240h1v1h-1zM759 239h1v1h-1zM760 238h1v1h-1zM761 237h1v1h-1zM762 236h1v1h-1zM763 235h1v1h-1zM764 234h1v1h-1zM765 233h1v1h-1zM766 232h1v1h-1zM767 231h1v1h-1zM768 230h1v1h-1zM769 229h1v1h-1zM770 228h1v1h-1zM771 227h1v1h-1zM772 226h1v1h-1zM773 225h1v1h-1zM774 225h1v1h-1zM775 224h1v1h-1zM776 223h1v1h-1zM777 222h1v1h-1zM778 221h1v1h-1zM779 221h1v1h-1zM780 220h1v1h-1zM781 219h1v1h-1zM782 218h1v1h-1zM783 218h1v1h-1zM784 218h1v1h-1zM785 218h1v1h-1zM786 218h1v1h-1zM787 219h1v1h-1zM788 219h1v1h-1zM789 220h1v1h-1zM790 220h1v1h-1zM791 221h1v1h-1zM792 222h1v1h-1zM793 222h1v1h-1zM794 223h1v1h-1zM795 223h1v1h-1zM796 224h1v1h-1zM797 225h1v1h-1zM798 225h1v1h-1zM799 226h1v1h-1zM800 227h1v1h-1zM801 228h1v1h-1zM802 228h1v1h-1zM803 229h1v1h-1zM804 230h1v1h-1zM805 230h1v1h-1zM806 231h1v1h-1zM807 232h1v1h-1zM808 233h1v1h-1zM809 234h1v1h-1zM810 235h1v1h-1zM811 235h1v1h-1zM812 236h1v1h-1zM813 237h1v1h-1zM814 238h1v1h-1zM815 239h1v2h-1zM816 241h1v2h-1zM817 243h1v2h-1zM818 245h1v2h-1zM819 247h1v2h-1zM820 249h1v2h-1zM821 251h1v2h-1zM822 253h1v2h-1zM823 255h1v1h-1zM824 256h1v2h-1zM825 258h1v1h-1zM826 259h1v2h-1zM827 261h1v2h-1zM828 263h1v1h-1zM829 264h1v2h-1zM830 266h1v1h-1zM831 267h1v2h-1zM832 269h1v1h-1zM833 270h1v2h-1zM834 272h1v2h-1zM835 274h1v1h-1zM836 275h1v2h-1zM837 277h1v1h-1zM838 278h1v2h-1zM839 280h1v2h-1zM840 282h1v2h-1zM841 284h1v2h-1zM842 286h1v2h-1zM843 288h1v2h-1zM844 290h1v2h-1zM845 292h1v2h-1zM846 294h1v2h-1zM847 296h1v1h-1zM848 297h1v2h-1zM849 299h1v2h-1zM850 301h1v1h-1zM851 302h1v2h-1zM852 304h1v2h-1zM853 306h1v1h-1zM854 307h1v2h-1zM855 309h1v1h-1zM856 310h1v1h-1zM857 311h1v1h-1zM858 312h1v1h-1zM859 313h1v1h-1zM860 313h1v1h-1zM861 314h1v1h-1zM862 314h1v1h-1zM863 314h1v1h-1zM864 313h1v1h-1zM865 313h1v1h-1zM866 313h1v1h-1zM867 312h1v1h-1zM868 312h1v1h-1zM869 311h1v1h-1zM870 310h1v1h-1zM871 309h1v1h-1zM872 307h1v2h-1zM873 305h1v2h-1zM874 303h1v2h-1zM875 302h1v1h-1zM876 300h1v2h-1zM877 298h1v2h-1zM878 296h1v2h-1zM879 293h1v3h-1zM880 291h1v2h-1zM881 289h1v2h-1zM882 287h1v2h-1zM883 285h1v2h-1zM884 283h1v2h-1zM885 281h1v2h-1zM886 279h1v2h-1zM887 277h1v2h-1zM888 275h1v2h-1zM889 273h1v2h-1zM890 271h1v2h-1zM891 269h1v2h-1zM892 267h1v2h-1zM893 265h1v2h-1zM894 263h1v2h-1zM895 261h1v2h-1zM896 259h1v2h-1zM897 257h1v2h-1zM898 255h1v2h-1zM899 253h1v2h-1zM900 250h1v3h-1zM901 248h1v2h-1zM902 246h1v2h-1zM903 244h1v2h-1zM904 243h1v1h-1zM905 241h1v2h-1zM906 240h1v1h-1zM907 239h1v1h-1zM908 238h1v1h-1zM909 237h1v1h-1zM910 237h1v1h-1z"/>
<g shape-rendering="crispEdges">
<rect x="6" y="445" width="1" height="19" fill="#ff0000" />
<rect x="6" y="453" width="3" height="5" fill="#ff1a00" />
<rect x="14" y="416" width="1" height="41" fill="#ff0000" />
<rect x="12" y="417" width="5" height="36" fill="#ff1a00" />
<rect x="13" y="418" width="3" height="34" fill="#ff4a00" />
<rect x="22" y="392" width="1" height="33" fill="#ff0000" />
<rect x="20" y="395" width="5" height="23" fill="#ff1a00" />
<rect x="21" y="396" width="3" height="21" fill="#ff4a00" />
<rect x="30" y="392" width="1" height="9" fill="#32cd32" />
<rect x="28" y="395" width="5" height="6" fill="#32cd32" />
<rect x="38" y="366" width="1" height="32" fill="#ff0000" />
<rect x="36" y="381" width="5" height="15" fill="#ff1a00" />
<rect x="37" y="382" width="3" height="13" fill="#ff4a00" />
<rect x="46" y="369" width="1" height="26" fill="#32cd32" />
<rect x="44" y="381" width="5" height="10" fill="#32cd32" />
<rect x="54" y="373" width="1" height="33" fill="#ff0000" />
<rect x="52" y="378" width="5" height="13" fill="#ff1a00" />
<rect x="53" y="379" width="3" height="11" fill="#ff4a00" />
<rect x="62" y="336" width="1" height="43" fill="#ff0000" />
<rect x="60" y="353" width="5" height="26" fill="#ff1a00" />
<rect x="61" y="354" width="3" height="24" fill="#ff4a00" />
<rect x="70" y="345" width="1" height="25" fill="#32cd32" />
<rect x="68" y="353" width="5" height="7" fill="#32cd32" />
<rect x="78" y="347" width="1" height="14" fill="#ff0000" />
<rect x="76" y="348" width="5" height="12" fill="#ff1a00" />
<rect x="77" y="349" width="3" height="10" fill="#ff4a00" />
<rect x="86" y="346" width="1" height="47" fill="#32cd32" />
<rect x="84" y="361" width="5" height="27" fill="#32cd32" />
<rect x="94" y="371" width="1" height="34" fill="#32cd32" />
<rect x="92" y="387" width="5" height="15" fill="#32cd32" />
<rect x="102" y="368" width="1" height="44" fill="#ff0000" />
<rect x="100" y="377" width="5" height="26" fill="#ff1a00" />
<rect x="101" y="378" width="3" height="24" fill="#ff4a00" />
<rect x="110" y="341" width="1" height="37" fill="#ff0000" />
<rect x="108" y="342" width="5" height="36" fill="#ff1a00" />
<rect x="109" y="343" width="3" height="34" fill="#ff4a00" />
<rect x="118" y="313" width="1" height="45" fill="#ff0000" />
<rect x="116" y="321" width="5" height="22" fill="#ff1a00" />
<rect x="117" y="322" width="3" height="20" fill="#ff4a00" />
<rect x="126" y="307" width="1" height="16" fill="#ff0000" />
<rect x="124" y="315" width="5" height="7" fill="#ff1a00" />
<rect x="125" y="316" width="3" height="5" fill="#ff4a00" />
<rect x="134" y="315" width="1" height="18" fill="#32cd32" />
<rect x="132" y="319" width="5" height="2" fill="#32cd32" />
<rect x="142" y="310" width="1" height="22" fill="#32cd32" />
<rect x="140" y="320" width="5" height="3" fill="#32cd32" />
<rect x="150" y="321" width="1" height="57" fill="#32cd32" />
<rect x="148" y="321" width="5" height="53" fill="#32cd32" />
<rect x="158" y="323" width="1" height="63" fill="#ff0000" />
<rect x="156" y="338" width="5" height="36" fill="#ff1a00" />
<rect x="157" y="339" width="3" height="34" fill="#ff4a00" />
<rect x="166" y="294" width="1" height="46" fill="#ff0000" />
<rect x="164" y="322" width="5" height="17" fill="#ff1a00" />
<rect x="165" y="323" width="3" height="15" fill="#ff4a00" />
<rect x="174" y="322" width="1" height="17" fill="#32cd32" />
<rect x="172" y="322" width="5" height="6" fill="#32cd32" />
<rect x="182" y="308" width="1" height="24" fill="#ff0000" />
<rect x="180" y="309" width="5" height="17" fill="#ff1a00" />
<rect x="181" y="310" width="3" height="15" fill="#ff4a00" />
<rect x="190" y="299" width="1" height="24" fill="#ff0000" />
<rect x="188" y="307" width="5" height="3" fill="#ff1a00" />
<rect x="189" y="308" width="3" height="1" fill="#ff4a00" />
<rect x="198" y="300" width="1" height="20" fill="#32cd32" />
<rect x="196" y="307" width="5" height="3" fill="#32cd32" />
<rect x="206" y="289" width="1" height="50" fill="#32cd32" />
<rect x="204" y="309" width="5" height="11" fill="#32cd32" />
<rect x="214" y="315" width="1" height="33" fill="#32cd32" />
<rect x="212" y="319" width="5" height="1" fill="#32cd32" />
<rect x="222" y="313" width="1" height="12" fill="#ff0000" />
<rect x="220" y="316" width="5" height="4" fill="#ff1a00" />
<rect x="221" y="317" width="3" height="2" fill="#ff4a00" />
<rect x="230" y="317" width="1" height="20" fill="#32cd32" />
<rect x="228" y="323" width="5" height="6" fill="#32cd32" />
<rect x="238" y="306" width="1" height="26" fill="#ff0000" />
<rect x="236" y="313" width="5" height="15" fill="#ff1a00" />
<rect x="237" y="314" width="3" height="13" fill="#ff4a00" />
<rect x="246" y="294" width="1" height="51" fill="#32cd32" />
<rect x="244" y="313" width="5" height="4" fill="#32cd32" />
<rect x="254" y="310" width="1" height="20" fill="#32cd32" />
<rect x="252" y="316" width="5" height="6" fill="#32cd32" />
<rect x="262" y="274" width="1" height="56" fill="#ff0000" />
<rect x="260" y="279" width="5" height="43" fill="#ff1a00" />
<rect x="261" y="280" width="3" height="41" fill="#ff4a00" />
<rect x="270" y="259" width="1" height="21" fill="#ff0000" />
<rect x="268" y="270" width="5" height="10" fill="#ff1a00" />
<rect x="269" y="271" width="3" height="8" fill="#ff4a00" />
<rect x="278" y="266" width="1" height="18" fill="#ff0000" />
<rect x="276" y="266" width="5" height="7" fill="#ff1a00" />
<rect x="277" y="267" width="3" height="5" fill="#ff4a00" />
<rect x="286" y="246" width="1" height="27" fill="#ff0000" />
<rect x="284" y="254" width="5" height="13" fill="#ff1a00" />
<rect x="285" y="255" width="3" height="11" fill="#ff4a00" />
<rect x="294" y="244" width="1" height="28" fill="#32cd32" />
<rect x="292" y="254" width="5" height="7" fill="#32cd32" />
<rect x="302" y="247" width="1" height="24" fill="#32cd32" />
<rect x="300" y="260" width="5" height="3" fill="#32cd32" />
<rect x="310" y="259" width="1" height="52" fill="#32cd32" />
<rect x="308" y="261" width="5" height="42" fill="#32cd32" />
<rect x="318" y="285" width="1" height="22" fill="#ff0000" />
<rect x="316" y="292" width="5" height="11" fill="#ff1a00" />
<rect x="317" y="293" width="3" height="9" fill="#ff4a00" />
<rect x="326" y="274" width="1" height="30" fill="#ff0000" />
<rect x="324" y="289" width="5" height="9" fill="#ff1a00" />
<rect x="325" y="290" width="3" height="7" fill="#ff4a00" />
<rect x="334" y="240" width="1" height="57" fill="#ff0000" />
<rect x="332" y="258" width="5" height="32" fill="#ff1a00" />
<rect x="333" y="259" width="3" height="30" fill="#ff4a00" />
<rect x="342" y="218" width="1" height="45" fill="#ff0000" />
<rect x="340" y="228" width="5" height="31" fill="#ff1a00" />
<rect x="341" y="229" width="3" height="29" fill="#ff4a00" />
<rect x="350" y="228" width="1" height="47" fill="#32cd32" />
<rect x="348" y="228" width="5" height="40" fill="#32cd32" />
<rect x="358" y="247" width="1" height="37" fill="#ff0000" />
<rect x="356" y="258" width="5" height="10" fill="#ff1a00" />
<rect x="357" y="259" width="3" height="8" fill="#ff4a00" />
<rect x="366" y="256" width="1" height="26" fill="#32cd32" />
<rect x="364" y="258" width="5" height="3" fill="#32cd32" />
<rect x="374" y="256" width="1" height="26" fill="#ff0000" />
<rect x="372" y="257" width="5" height="8" fill="#ff1a00" />
<rect x="373" y="258" width="3" height="6" fill="#ff4a00" />
<rect x="382" y="234" width="1" height="29" fill="#ff0000" />
<rect x="380" y="236" width="5" height="22" fill="#ff1a00" />
<rect x="381" y="237" width="3" height="20" fill="#ff4a00" />
<rect x="390" y="198" width="1" height="40" fill="#ff0000" />
<rect x="388" y="199" width="5" height="38" fill="#ff1a00" />
<rect x="389" y="200" width="3" height="36" fill="#ff4a00" />
<rect x="398" y="198" width="1" height="58" fill="#32cd32" />
<rect x="396" y="199" width="5" height="38" fill="#32cd32" />
<rect x="406" y="211" width="1" height="36" fill="#ff0000" />
<rect x="404" y="232" width="5" height="5" fill="#ff1a00" />
<rect x="405" y="233" width="3" height="3" fill="#ff4a00" />
<rect x="414" y="220" width="1" height="18" fill="#32cd32" />
<rect x="412" y="231" width="5" height="1" fill="#32cd32" />
<rect x="422" y="242" width="1" height="53" fill="#32cd32" />
<rect x="420" y="249" width="5" height="32" fill="#32cd32" />
<rect x="430" y="265" width="1" height="28" fill="#ff0000" />
<rect x="428" y="271" width="5" height="10" fill="#ff1a00" />
<rect x="429" y="272" width="3" height="8" fill="#ff4a00" />
<rect x="438" y="179" width="1" height="104" fill="#ff0000" />
<rect x="436" y="190" width="5" height="83" fill="#ff1a00" />
<rect x="437" y="191" width="3" height="81" fill="#ff4a00" />
<rect x="446" y="158" width="1" height="45" fill="#ff0000" />
<rect x="444" y="167" width="5" height="24" fill="#ff1a00" />
<rect x="445" y="168" width="3" height="22" fill="#ff4a00" />
<rect x="454" y="160" width="1" height="90" fill="#32cd32" />
<rect x="452" y="168" width="5" height="64" fill="#32cd32" />
<rect x="462" y="221" width="1" height="15" fill="#32cd32" />
<rect x="460" y="231" width="5" height="5" fill="#32cd32" />
<rect x="470" y="181" width="1" height="50" fill="#ff0000" />
<rect x="468" y="183" width="5" height="31" fill="#ff1a00" />
<rect x="469" y="184" width="3" height="29" fill="#ff4a00" />
<rect x="478" y="169" width="1" height="21" fill="#ff0000" />
<rect x="476" y="173" width="5" height="11" fill="#ff1a00" />
<rect x="477" y="174" width="3" height="9" fill="#ff4a00" />
<rect x="486" y="167" width="1" height="50" fill="#32cd32" />
<rect x="484" y="172" width="5" height="40" fill="#32cd32" />
<rect x="494" y="187" width="1" height="31" fill="#ff0000" />
<rect x="492" y="201" width="5" height="11" fill="#ff1a00" />
<rect x="493" y="202" width="3" height="9" fill="#ff4a00" />
<rect x="502" y="178" width="1" height="32" fill="#ff0000" />
<rect x="500" y="193" width="5" height="9" fill="#ff1a00" />
<rect x="501" y="194" width="3" height="7" fill="#ff4a00" />
<rect x="510" y="184" width="1" height="10" fill="#ff0000" />
<rect x="508" y="192" width="5" height="2" fill="#ff1a00" />
<rect x="518" y="175" width="1" height="18" fill="#32cd32" />
<rect x="516" y="188" width="5" height="3" fill="#32cd32" />
<rect x="526" y="157" width="1" height="35" fill="#ff0000" />
<rect x="524" y="158" width="5" height="33" fill="#ff1a00" />
<rect x="525" y="159" width="3" height="31" fill="#ff4a00" />
<rect x="534" y="133" width="1" height="39" fill="#32cd32" />
<rect x="532" y="158" width="5" height="14" fill="#32cd32" />
<rect x="542" y="128" width="1" height="45" fill="#ff0000" />
<rect x="540" y="134" width="5" height="38" fill="#ff1a00" />
<rect x="541" y="135" width="3" height="36" fill="#ff4a00" />
<rect x="550" y="101" width="1" height="38" fill="#ff0000" />
<rect x="548" y="106" width="5" height="29" fill="#ff1a00" />
<rect x="549" y="107" width="3" height="27" fill="#ff4a00" />
<rect x="558" y="85" width="1" height="24" fill="#ff0000" />
<rect x="556" y="88" width="5" height="19" fill="#ff1a00" />
<rect x="557" y="89" width="3" height="17" fill="#ff4a00" />
<rect x="566" y="82" width="1" height="19" fill="#32cd32" />
<rect x="564" y="86" width="5" height="5" fill="#32cd32" />
<rect x="574" y="77" width="1" height="23" fill="#ff0000" />
<rect x="572" y="89" width="5" height="2" fill="#ff1a00" />
<rect x="582" y="74" width="1" height="20" fill="#ff0000" />
<rect x="580" y="80" width="5" height="5" fill="#ff1a00" />
<rect x="581" y="81" width="3" height="3" fill="#ff4a00" />
<rect x="590" y="54" width="1" height="46" fill="#ff0000" />
<rect x="588" y="64" width="5" height="17" fill="#ff1a00" />
<rect x="589" y="65" width="3" height="15" fill="#ff4a00" />
<rect x="598" y="54" width="1" height="33" fill="#32cd32" />
<rect x="596" y="64" width="5" height="4" fill="#32cd32" />
<rect x="606" y="60" width="1" height="18" fill="#ff0000" />
<rect x="604" y="64" width="5" height="4" fill="#ff1a00" />
<rect x="605" y="65" width="3" height="2" fill="#ff4a00" />
<rect x="614" y="52" width="1" height="28" fill="#ff0000" />
<rect x="612" y="58" width="5" height="12" fill="#ff1a00" />
<rect x="613" y="59" width="3" height="10" fill="#ff4a00" />
<rect x="622" y="54" width="1" height="19" fill="#32cd32" />
<rect x="620" y="58" width="5" height="15" fill="#32cd32" />
<rect x="630" y="53" width="1" height="46" fill="#32cd32" />
<rect x="628" y="69" width="5" height="12" fill="#32cd32" />
<rect x="638" y="57" width="1" height="72" fill="#32cd32" />
<rect x="636" y="80" width="5" height="48" fill="#32cd32" />
<rect x="646" y="123" width="1" height="65" fill="#32cd32" />
<rect x="644" y="127" width="5" height="59" fill="#32cd32" />
<rect x="654" y="169" width="1" height="20" fill="#ff0000" />
<rect x="652" y="182" width="5" height="4" fill="#ff1a00" />
<rect x="653" y="183" width="3" height="2" fill="#ff4a00" />
<rect x="662" y="185" width="1" height="41" fill="#32cd32" />
<rect x="660" y="186" width="5" height="35" fill="#32cd32" />
<rect x="670" y="219" width="1" height="24" fill="#32cd32" />
<rect x="668" y="220" width="5" height="13" fill="#32cd32" />
<rect x="678" y="216" width="1" height="69" fill="#32cd32" />
<rect x="676" y="232" width="5" height="25" fill="#32cd32" />
<rect x="686" y="246" width="1" height="31" fill="#32cd32" />
<rect x="684" y="256" width="5" height="6" fill="#32cd32" />
<rect x="694" y="239" width="1" height="45" fill="#ff0000" />
<rect x="692" y="249" width="5" height="13" fill="#ff1a00" />
<rect x="693" y="250" width="3" height="11" fill="#ff4a00" />
<rect x="702" y="240" width="1" height="11" fill="#ff0000" />
<rect x="700" y="241" width="5" height="9" fill="#ff1a00" />
<rect x="701" y="242" width="3" height="7" fill="#ff4a00" />
<rect x="710" y="228" width="1" height="23" fill="#ff0000" />
<rect x="708" y="244" width="5" height="3" fill="#ff1a00" />
<rect x="709" y="245" width="3" height="1" fill="#ff4a00" />
<rect x="718" y="234" width="1" height="29" fill="#32cd32" />
<rect x="716" y="244" width="5" height="11" fill="#32cd32" />
<rect x="726" y="230" width="1" height="29" fill="#ff0000" />
<rect x="724" y="251" width="5" height="4" fill="#ff1a00" />
<rect x="725" y="252" width="3" height="2" fill="#ff4a00" />
<rect x="734" y="218" width="1" height="40" fill="#ff0000" />
<rect x="732" y="229" width="5" height="23" fill="#ff1a00" />
<rect x="733" y="230" width="3" height="21" fill="#ff4a00" />
<rect x="742" y="224" width="1" height="38" fill="#32cd32" />
<rect x="740" y="229" width="5" height="23" fill="#32cd32" />
<rect x="750" y="239" width="1" height="18" fill="#ff0000" />
<rect x="748" y="241" width="5" height="11" fill="#ff1a00" />
<rect x="749" y="242" width="3" height="9" fill="#ff4a00" />
<rect x="758" y="218" width="1" height="33" fill="#ff0000" />
<rect x="756" y="231" width="5" height="15" fill="#ff1a00" />
<rect x="757" y="232" width="3" height="13" fill="#ff4a00" />
<rect x="766" y="201" width="1" height="34" fill="#ff0000" />
<rect x="764" y="209" width="5" height="24" fill="#ff1a00" />
<rect x="765" y="210" width="3" height="22" fill="#ff4a00" />
<rect x="774" y="193" width="1" height="32" fill="#ff0000" />
<rect x="772" y="200" width="5" height="10" fill="#ff1a00" />
<rect x="773" y="201" width="3" height="8" fill="#ff4a00" />
<rect x="782" y="191" width="1" height="23" fill="#32cd32" />
<rect x="780" y="200" width="5" height="9" fill="#32cd32" />
<rect x="790" y="197" width="1" height="61" fill="#32cd32" />
<rect x="788" y="208" width="5" height="39" fill="#32cd32" />
<rect x="798" y="242" width="1" height="20" fill="#32cd32" />
<rect x="796" y="246" width="5" height="16" fill="#32cd32" />
<rect x="806" y="234" width="1" height="40" fill="#ff0000" />
<rect x="804" y="248" width="5" height="20" fill="#ff1a00" />
<rect x="805" y="249" width="3" height="18" fill="#ff4a00" />
<rect x="814" y="238" width="1" height="18" fill="#ff0000" />
<rect x="812" y="240" width="5" height="9" fill="#ff1a00" />
<rect x="813" y="241" width="3" height="7" fill="#ff4a00" />
<rect x="822" y="234" width="1" height="46" fill="#32cd32" />
<rect x="820" y="240" width="5" height="35" fill="#32cd32" />
<rect x="830" y="270" width="1" height="45" fill="#32cd32" />
<rect x="828" y="274" width="5" height="33" fill="#32cd32" />
<rect x="838" y="295" width="1" height="36" fill="#32cd32" />
<rect x="836" y="306" width="5" height="18" fill="#32cd32" />
<rect x="846" y="321" width="1" height="18" fill="#32cd32" />
<rect x="844" y="323" width="5" height="6" fill="#32cd32" />
<rect x="854" y="300" width="1" height="31" fill="#ff0000" />
<rect x="852" y="312" width="5" height="17" fill="#ff1a00" />
<rect x="853" y="313" width="3" height="15" fill="#ff4a00" />
<rect x="862" y="297" width="1" height="26" fill="#ff0000" />
<rect x="860" y="307" width="5" height="6" fill="#ff1a00" />
<rect x="861" y="308" width="3" height="4" fill="#ff4a00" />
<rect x="870" y="271" width="1" height="41" fill="#ff0000" />
<rect x="868" y="286" width="5" height="23" fill="#ff1a00" />
<rect x="869" y="287" width="3" height="21" fill="#ff4a00" />
<rect x="878" y="236" width="1" height="51" fill="#ff0000" />
<rect x="876" y="245" width="5" height="42" fill="#ff1a00" />
<rect x="877" y="246" width="3" height="40" fill="#ff4a00" />
<rect x="886" y="213" width="1" height="47" fill="#ff0000" />
<rect x="884" y="240" width="5" height="6" fill="#ff1a00" />
<rect x="885" y="241" width="3" height="4" fill="#ff4a00" />
<rect x="894" y="229" width="1" height="17" fill="#32cd32" />
<rect x="892" y="240" width="5" height="3" fill="#32cd32" />
<rect x="902" y="221" width="1" height="25" fill="#ff0000" />
<rect x="900" y="221" width="5" height="23" fill="#ff1a00" />
<rect x="901" y="222" width="3" height="21" fill="#ff4a00" />
<rect x="910" y="218" width="1" height="16" fill="#32cd32" />
<rect x="908" y="222" width="5" height="9" fill="#32cd32" />
</g>
<g shape-rendering="crispEdges">
<rect x="660" y="189" width="312" height="2" fill="#f82a2e" />
<rect x="678" y="263" width="295" height="2" fill="#8ec600" />
<rect x="750" y="331" width="215" height="2" fill="#2b8be3" />
</g>
<g shape-rendering="crispEdges">
<rect x="1157" y="42" width="2" height="1" fill="#000" />
<rect x="1157" y="75" width="2" height="1" fill="#000" />
<rect x="1157" y="108" width="2" height="1" fill="#000" />
<rect x="1157" y="141" width="2" height="1" fill="#000" />
<rect x="1157" y="174" width="2" height="1" fill="#000" />
<rect x="1157" y="207" width="2" height="1" fill="#000" />
<rect x="1157" y="240" width="2" height="1" fill="#000" />
<rect x="1157" y="273" width="2" height="1" fill="#000" />
<rect x="1157" y="306" width="2" height="1" fill="#000" />
<rect x="1157" y="339" width="2" height="1" fill="#000" />
<rect x="1157" y="372" width="2" height="1" fill="#000" />
<rect x="1157" y="405" width="2" height="1" fill="#000" />
<rect x="1157" y="438" width="2" height="1" fill="#000" />
<rect x="1157" y="471" width="2" height="1" fill="#000" />
<rect x="1158" y="225" width="42" height="11" fill="#000" />
</g>
<text x="1162.3" y="46" font-size="10" fill="#000" textLength="32.5" lengthAdjust="spacingAndGlyphs" stroke="#000" stroke-width="0.25" >1.36860</text>
<text x="1162.3" y="79" font-size="10" fill="#000" textLength="32.5" lengthAdjust="spacingAndGlyphs" stroke="#000" stroke-width="0.25" >1.36160</text>
<text x="1162.3" y="112" font-size="10" fill="#000" textLength="32.5" lengthAdjust="spacingAndGlyphs" stroke="#000" stroke-width="0.25" >1.35480</text>
<text x="1162.3" y="145" font-size="10" fill="#000" textLength="32.5" lengthAdjust="spacingAndGlyphs" stroke="#000" stroke-width="0.25" >1.34780</text>
<text x="1162.3" y="178" font-size="10" fill="#000" textLength="32.5" lengthAdjust="spacingAndGlyphs" stroke="#000" stroke-width="0.25" >1.34100</text>
<text x="1162.3" y="211" font-size="10" fill="#000" textLength="32.5" lengthAdjust="spacingAndGlyphs" stroke="#000" stroke-width="0.25" >1.33400</text>
<text x="1162.3" y="244" font-size="10" fill="#000" textLength="32.5" lengthAdjust="spacingAndGlyphs" stroke="#000" stroke-width="0.25" >1.32720</text>
<text x="1162.3" y="277" font-size="10" fill="#000" textLength="32.5" lengthAdjust="spacingAndGlyphs" stroke="#000" stroke-width="0.25" >1.32020</text>
<text x="1162.3" y="310" font-size="10" fill="#000" textLength="32.5" lengthAdjust="spacingAndGlyphs" stroke="#000" stroke-width="0.25" >1.31340</text>
<text x="1162.3" y="343" font-size="10" fill="#000" textLength="32.5" lengthAdjust="spacingAndGlyphs" stroke="#000" stroke-width="0.25" >1.30640</text>
<text x="1162.3" y="376" font-size="10" fill="#000" textLength="32.5" lengthAdjust="spacingAndGlyphs" stroke="#000" stroke-width="0.25" >1.29960</text>
<text x="1162.3" y="409" font-size="10" fill="#000" textLength="32.5" lengthAdjust="spacingAndGlyphs" stroke="#000" stroke-width="0.25" >1.29280</text>
<text x="1162.3" y="442" font-size="10" fill="#000" textLength="32.5" lengthAdjust="spacingAndGlyphs" stroke="#000" stroke-width="0.25" >1.28580</text>
<text x="1162.3" y="475" font-size="10" fill="#000" textLength="32.5" lengthAdjust="spacingAndGlyphs" stroke="#000" stroke-width="0.25" >1.27900</text>
<text x="1162.3" y="234" font-size="10" fill="#fff" textLength="32.5" lengthAdjust="spacingAndGlyphs" stroke="#fff" stroke-width="0.25" >1.32915</text>
<path d="M9 41.5 L12.5 37.5 L16 41.5 Z" fill="#000"/>
<text x="21.5" y="42.5" font-size="10" fill="#000" textLength="65" lengthAdjust="spacingAndGlyphs" stroke="#000" stroke-width="0.25" >USDCAD,Daily</text>
<text x="93.5" y="42.5" font-size="10" fill="#000" textLength="140" lengthAdjust="spacingAndGlyphs" stroke="#000" stroke-width="0.25" >1.33101 1.33181 1.32871 1.32915</text>
<g shape-rendering="crispEdges">
<rect x="9" y="50" width="52" height="25" fill="url(#gb)" />
<rect x="176" y="50" width="52" height="25" fill="url(#gb)" />
<rect x="9" y="74" width="109" height="40" fill="url(#gp)" />
<rect x="120" y="74" width="108" height="40" fill="url(#gp)" />
<rect x="13" y="74" width="44" height="1" fill="#7676f2" />
<rect x="180" y="74" width="44" height="1" fill="#7676f2" />
<rect x="63" y="50" width="111" height="22" fill="#c4c4c4" />
<rect x="64" y="51" width="109" height="20" fill="#fff" />
<rect x="64" y="51" width="20" height="20" fill="url(#gs)" />
<rect x="84" y="51" width="1" height="20" fill="#c4c4c4" />
<rect x="153" y="51" width="20" height="20" fill="url(#gs)" />
<rect x="152" y="51" width="1" height="20" fill="#c4c4c4" />
</g>
<path d="M71.2 59.2 L76 59.2 L73.6 62 Z" fill="#5068b8"/>
<path d="M160 62 L164.8 62 L162.4 59.2 Z" fill="#5068b8"/>
<text x="21.5" y="66" font-size="12.5" fill="#fff" textLength="25.5" lengthAdjust="spacingAndGlyphs" >SELL</text>
<text x="189.7" y="66" font-size="12.5" fill="#fff" textLength="22.3" lengthAdjust="spacingAndGlyphs" >BUY</text>
<text x="125" y="65.5" font-size="12.5" fill="#000" textLength="23.5" lengthAdjust="spacingAndGlyphs" >0.01</text>
<text x="29.7" y="105" font-size="12" fill="#fff" textLength="23.3" lengthAdjust="spacingAndGlyphs" font-weight="bold" >1.32</text>
<text x="139.7" y="105" font-size="12" fill="#fff" textLength="23.3" lengthAdjust="spacingAndGlyphs" font-weight="bold" >1.32</text>
<text x="56" y="105" font-size="33.5" fill="#fff" textLength="35" lengthAdjust="spacingAndGlyphs" >91</text>
<text x="168" y="105" font-size="33.5" fill="#fff" textLength="34" lengthAdjust="spacingAndGlyphs" >93</text>
<text x="97" y="88.6" font-size="11" fill="#fff" font-weight="bold" >5</text>
<text x="207.3" y="88.6" font-size="11" fill="#fff" font-weight="bold" >8</text>
<g shape-rendering="crispEdges">
<line x1="7" y1="497.5" x2="1156" y2="497.5" stroke="#c4c4c4" stroke-dasharray="3 3"/>
<line x1="7" y1="523.5" x2="1156" y2="523.5" stroke="#c4c4c4" stroke-dasharray="3 3"/>
<rect x="1157" y="478" width="2" height="1" fill="#000" />
</g>
<path fill="#1e90ff" shape-rendering="crispEdges" d="M6 519h1v1h-1zM7 518h1v1h-1zM8 517h1v1h-1zM9 516h1v1h-1zM10 515h1v1h-1zM11 514h1v2h-1zM12 514h1v1h-1zM13 513h1v1h-1zM14 513h1v1h-1zM15 512h1v1h-1zM16 512h1v1h-1zM17 512h1v1h-1zM18 511h1v1h-1zM19 511h1v1h-1zM20 511h1v1h-1zM21 511h1v1h-1zM22 511h1v1h-1zM23 511h1v1h-1zM24 511h1v1h-1zM25 511h1v1h-1zM26 511h1v1h-1zM27 511h1v1h-1zM28 510h1v1h-1zM29 510h1v1h-1zM30 510h1v1h-1zM31 510h1v1h-1zM32 510h1v1h-1zM33 510h1v1h-1zM34 509h1v1h-1zM35 509h1v1h-1zM36 509h1v1h-1zM37 509h1v1h-1zM38 509h1v1h-1zM39 509h1v1h-1zM40 509h1v1h-1zM41 509h1v1h-1zM42 509h1v1h-1zM43 509h1v1h-1zM44 509h1v1h-1zM45 509h1v2h-1zM46 509h1v1h-1zM47 509h1v1h-1zM48 509h1v1h-1zM49 509h1v1h-1zM50 508h1v1h-1zM51 508h1v1h-1zM52 508h1v1h-1zM53 508h1v1h-1zM54 507h1v1h-1zM55 507h1v1h-1zM56 507h1v1h-1zM57 507h1v1h-1zM58 506h1v1h-1zM59 506h1v1h-1zM60 506h1v1h-1zM61 505h1v1h-1zM62 505h1v1h-1zM63 505h1v1h-1zM64 505h1v1h-1zM65 505h1v1h-1zM66 506h1v1h-1zM67 506h1v1h-1zM68 506h1v1h-1zM69 506h1v1h-1zM70 506h1v1h-1zM71 506h1v1h-1zM72 506h1v1h-1zM73 506h1v1h-1zM74 505h1v1h-1zM75 505h1v1h-1zM76 505h1v1h-1zM77 505h1v1h-1zM78 505h1v1h-1zM79 505h1v1h-1zM80 506h1v1h-1zM81 507h1v1h-1zM82 507h1v1h-1zM83 508h1v1h-1zM84 509h1v1h-1zM85 509h1v1h-1zM86 510h1v1h-1zM87 511h1v1h-1zM88 511h1v1h-1zM89 511h1v1h-1zM90 511h1v1h-1zM91 512h1v1h-1zM92 512h1v1h-1zM93 512h1v1h-1zM94 512h1v1h-1zM95 511h1v1h-1zM96 511h1v1h-1zM97 510h1v1h-1zM98 510h1v1h-1zM99 510h1v1h-1zM100 509h1v1h-1zM101 509h1v1h-1zM102 508h1v1h-1zM103 508h1v1h-1zM104 507h1v1h-1zM105 507h1v1h-1zM106 507h1v1h-1zM107 506h1v1h-1zM108 506h1v1h-1zM109 505h1v1h-1zM110 505h1v1h-1zM111 504h1v1h-1zM112 504h1v1h-1zM113 504h1v1h-1zM114 504h1v1h-1zM115 503h1v1h-1zM116 503h1v1h-1zM117 503h1v1h-1zM118 503h1v1h-1zM119 503h1v1h-1zM120 502h1v1h-1zM121 502h1v1h-1zM122 502h1v1h-1zM123 502h1v1h-1zM124 502h1v1h-1zM125 502h1v1h-1zM126 502h1v1h-1zM127 502h1v1h-1zM128 502h1v1h-1zM129 502h1v1h-1zM130 502h1v1h-1zM131 502h1v1h-1zM132 502h1v1h-1zM133 502h1v1h-1zM134 503h1v1h-1zM135 503h1v1h-1zM136 503h1v1h-1zM137 503h1v1h-1zM138 503h1v1h-1zM139 503h1v1h-1zM140 503h1v1h-1zM141 504h1v1h-1zM142 504h1v1h-1zM143 505h1v1h-1zM144 505h1v1h-1zM145 506h1v1h-1zM146 507h1v1h-1zM147 508h1v1h-1zM148 509h1v1h-1zM149 510h1v1h-1zM150 511h1v1h-1zM151 510h1v1h-1zM152 510h1v1h-1zM153 509h1v1h-1zM154 509h1v1h-1zM155 508h1v1h-1zM156 508h1v1h-1zM157 507h1v1h-1zM158 507h1v1h-1zM159 507h1v1h-1zM160 506h1v1h-1zM161 506h1v1h-1zM162 506h1v1h-1zM163 506h1v1h-1zM164 505h1v1h-1zM165 505h1v1h-1zM166 505h1v1h-1zM167 505h1v1h-1zM168 505h1v1h-1zM169 506h1v1h-1zM170 506h1v1h-1zM171 506h1v1h-1zM172 506h1v1h-1zM173 506h1v1h-1zM174 505h1v1h-1zM175 505h1v1h-1zM176 505h1v1h-1zM177 505h1v1h-1zM178 505h1v1h-1zM179 505h1v1h-1zM180 504h1v1h-1zM181 504h1v1h-1zM182 504h1v1h-1zM183 504h1v1h-1zM184 504h1v1h-1zM185 504h1v1h-1zM186 504h1v1h-1zM187 504h1v1h-1zM188 504h1v1h-1zM189 504h1v1h-1zM190 504h1v1h-1zM191 504h1v1h-1zM192 504h1v1h-1zM193 504h1v1h-1zM194 504h1v1h-1zM195 504h1v1h-1zM196 504h1v1h-1zM197 504h1v1h-1zM198 504h1v1h-1zM199 504h1v1h-1zM200 504h1v1h-1zM201 504h1v1h-1zM202 505h1v1h-1zM203 505h1v1h-1zM204 505h1v1h-1zM205 506h1v1h-1zM206 506h1v1h-1zM207 506h1v1h-1zM208 506h1v1h-1zM209 506h1v1h-1zM210 506h1v1h-1zM211 506h1v1h-1zM212 506h1v1h-1zM213 506h1v1h-1zM214 506h1v1h-1zM215 506h1v1h-1zM216 506h1v1h-1zM217 505h1v1h-1zM218 505h1v1h-1zM219 505h1v1h-1zM220 505h1v1h-1zM221 505h1v1h-1zM222 505h1v1h-1zM223 505h1v1h-1zM224 506h1v1h-1zM225 506h1v1h-1zM226 506h1v1h-1zM227 507h1v1h-1zM228 507h1v1h-1zM229 508h1v1h-1zM230 508h1v1h-1zM231 507h1v1h-1zM232 507h1v1h-1zM233 506h1v1h-1zM234 506h1v1h-1zM235 506h1v1h-1zM236 505h1v1h-1zM237 505h1v1h-1zM238 505h1v1h-1zM239 505h1v1h-1zM240 505h1v1h-1zM241 505h1v1h-1zM242 505h1v1h-1zM243 505h1v1h-1zM244 506h1v1h-1zM245 506h1v1h-1zM246 506h1v1h-1zM247 506h1v1h-1zM248 506h1v1h-1zM249 506h1v1h-1zM250 506h1v1h-1zM251 507h1v1h-1zM252 507h1v1h-1zM253 507h1v1h-1zM254 506h1v1h-1zM255 506h1v1h-1zM256 505h1v1h-1zM257 504h1v1h-1zM258 504h1v1h-1zM259 503h1v1h-1zM260 502h1v1h-1zM261 501h1v1h-1zM262 501h1v1h-1zM263 501h1v1h-1zM264 500h1v1h-1zM265 500h1v1h-1zM266 500h1v1h-1zM267 500h1v1h-1zM268 500h1v1h-1zM269 500h1v1h-1zM270 500h1v1h-1zM271 500h1v1h-1zM272 500h1v1h-1zM273 499h1v1h-1zM274 499h1v1h-1zM275 499h1v1h-1zM276 499h1v1h-1zM277 499h1v1h-1zM278 498h1v1h-1zM279 498h1v1h-1zM280 498h1v1h-1zM281 498h1v1h-1zM282 498h1v1h-1zM283 498h1v1h-1zM284 498h1v1h-1zM285 498h1v1h-1zM286 498h1v1h-1zM287 498h1v1h-1zM288 498h1v1h-1zM289 498h1v1h-1zM290 498h1v1h-1zM291 498h1v1h-1zM292 499h1v1h-1zM293 499h1v1h-1zM294 499h1v1h-1zM295 499h1v1h-1zM296 499h1v1h-1zM297 499h1v1h-1zM298 500h1v1h-1zM299 500h1v1h-1zM300 500h1v1h-1zM301 500h1v1h-1zM302 500h1v1h-1zM303 501h1v1h-1zM304 502h1v1h-1zM305 503h1v1h-1zM306 504h1v2h-1zM307 506h1v1h-1zM308 507h1v1h-1zM309 508h1v1h-1zM310 509h1v1h-1zM311 508h1v1h-1zM312 508h1v1h-1zM313 508h1v1h-1zM314 508h1v1h-1zM315 507h1v1h-1zM316 507h1v1h-1zM317 507h1v1h-1zM318 507h1v1h-1zM319 507h1v1h-1zM320 507h1v1h-1zM321 506h1v1h-1zM322 506h1v1h-1zM323 506h1v1h-1zM324 506h1v1h-1zM325 506h1v1h-1zM326 506h1v1h-1zM327 505h1v1h-1zM328 505h1v1h-1zM329 504h1v1h-1zM330 504h1v1h-1zM331 503h1v1h-1zM332 503h1v1h-1zM333 502h1v1h-1zM334 502h1v1h-1zM335 501h1v1h-1zM336 501h1v1h-1zM337 501h1v1h-1zM338 500h1v1h-1zM339 500h1v1h-1zM340 500h1v1h-1zM341 499h1v1h-1zM342 499h1v1h-1zM343 500h1v1h-1zM344 501h1v1h-1zM345 502h1v1h-1zM346 503h1v1h-1zM347 504h1v1h-1zM348 505h1v1h-1zM349 505h1v1h-1zM350 506h1v1h-1zM351 506h1v1h-1zM352 506h1v1h-1zM353 506h1v1h-1zM354 506h1v1h-1zM355 505h1v1h-1zM356 505h1v1h-1zM357 505h1v1h-1zM358 505h1v1h-1zM359 505h1v1h-1zM360 505h1v1h-1zM361 505h1v1h-1zM362 505h1v1h-1zM363 505h1v1h-1zM364 505h1v1h-1zM365 505h1v1h-1zM366 505h1v1h-1zM367 505h1v1h-1zM368 505h1v1h-1zM369 505h1v1h-1zM370 505h1v1h-1zM371 505h1v1h-1zM372 505h1v1h-1zM373 505h1v1h-1zM374 505h1v1h-1zM375 505h1v1h-1zM376 504h1v1h-1zM377 504h1v1h-1zM378 503h1v1h-1zM379 503h1v1h-1zM380 502h1v1h-1zM381 502h1v1h-1zM382 502h1v1h-1zM383 501h1v1h-1zM384 501h1v1h-1zM385 500h1v1h-1zM386 500h1v1h-1zM387 499h1v1h-1zM388 499h1v1h-1zM389 498h1v1h-1zM390 498h1v1h-1zM391 499h1v1h-1zM392 499h1v1h-1zM393 500h1v1h-1zM394 501h1v1h-1zM395 502h1v1h-1zM396 503h1v1h-1zM397 504h1v1h-1zM398 505h1v1h-1zM399 505h1v1h-1zM400 505h1v1h-1zM401 505h1v1h-1zM402 504h1v1h-1zM403 504h1v1h-1zM404 504h1v1h-1zM405 504h1v1h-1zM406 504h1v1h-1zM407 504h1v1h-1zM408 504h1v1h-1zM409 504h1v1h-1zM410 504h1v1h-1zM411 504h1v1h-1zM412 504h1v1h-1zM413 504h1v1h-1zM414 504h1v1h-1zM415 505h1v1h-1zM416 506h1v1h-1zM417 506h1v1h-1zM418 507h1v1h-1zM419 508h1v1h-1zM420 509h1v1h-1zM421 510h1v1h-1zM422 511h1v1h-1zM423 511h1v1h-1zM424 511h1v1h-1zM425 510h1v1h-1zM426 510h1v1h-1zM427 510h1v1h-1zM428 510h1v1h-1zM429 510h1v1h-1zM430 510h1v1h-1zM431 509h1v1h-1zM432 508h1v1h-1zM433 507h1v1h-1zM434 506h1v1h-1zM435 505h1v1h-1zM436 504h1v1h-1zM437 503h1v1h-1zM438 502h1v1h-1zM439 501h1v1h-1zM440 501h1v1h-1zM441 501h1v1h-1zM442 501h1v1h-1zM443 501h1v1h-1zM444 500h1v1h-1zM445 500h1v1h-1zM446 500h1v1h-1zM447 501h1v1h-1zM448 502h1v1h-1zM449 503h1v1h-1zM450 504h1v1h-1zM451 504h1v1h-1zM452 505h1v1h-1zM453 506h1v1h-1zM454 507h1v1h-1zM455 507h1v1h-1zM456 507h1v1h-1zM457 508h1v1h-1zM458 508h1v1h-1zM459 508h1v1h-1zM460 508h1v1h-1zM461 508h1v1h-1zM462 508h1v1h-1zM463 507h1v1h-1zM464 507h1v1h-1zM465 506h1v1h-1zM466 506h1v1h-1zM467 505h1v1h-1zM468 505h1v1h-1zM469 504h1v1h-1zM470 504h1v1h-1zM471 504h1v1h-1zM472 504h1v1h-1zM473 503h1v1h-1zM474 503h1v1h-1zM475 503h1v1h-1zM476 503h1v1h-1zM477 503h1v1h-1zM478 503h1v1h-1zM479 504h1v1h-1zM480 504h1v1h-1zM481 504h1v1h-1zM482 505h1v1h-1zM483 505h1v1h-1zM484 506h1v1h-1zM485 506h1v1h-1zM486 507h1v1h-1zM487 507h1v1h-1zM488 507h1v1h-1zM489 507h1v1h-1zM490 507h1v1h-1zM491 506h1v1h-1zM492 506h1v1h-1zM493 506h1v1h-1zM494 506h1v1h-1zM495 506h1v1h-1zM496 506h1v1h-1zM497 506h1v1h-1zM498 506h1v1h-1zM499 506h1v1h-1zM500 506h1v1h-1zM501 506h1v1h-1zM502 506h1v1h-1zM503 506h1v1h-1zM504 506h1v1h-1zM505 506h1v1h-1zM506 506h1v1h-1zM507 506h1v1h-1zM508 505h1v1h-1zM509 505h1v1h-1zM510 505h1v1h-1zM511 505h1v1h-1zM512 505h1v1h-1zM513 505h1v1h-1zM514 505h1v1h-1zM515 505h1v1h-1zM516 505h1v1h-1zM517 505h1v1h-1zM518 505h1v1h-1zM519 504h1v1h-1zM520 504h1v1h-1zM521 504h1v1h-1zM522 503h1v1h-1zM523 503h1v1h-1zM524 502h1v1h-1zM525 502h1v1h-1zM526 502h1v1h-1zM527 502h1v1h-1zM528 502h1v1h-1zM529 502h1v1h-1zM530 503h1v1h-1zM531 503h1v1h-1zM532 503h1v1h-1zM533 503h1v1h-1zM534 504h1v1h-1zM535 503h1v1h-1zM536 503h1v1h-1zM537 503h1v1h-1zM538 502h1v1h-1zM539 502h1v1h-1zM540 501h1v1h-1zM541 501h1v1h-1zM542 501h1v1h-1zM543 500h1v1h-1zM544 500h1v1h-1zM545 500h1v1h-1zM546 500h1v1h-1zM547 499h1v1h-1zM548 499h1v1h-1zM549 499h1v1h-1zM550 499h1v1h-1zM551 498h1v1h-1zM552 498h1v1h-1zM553 498h1v1h-1zM554 497h1v1h-1zM555 497h1v1h-1zM556 497h1v1h-1zM557 497h1v1h-1zM558 497h1v1h-1zM559 497h1v1h-1zM560 497h1v1h-1zM561 497h1v1h-1zM562 497h1v1h-1zM563 497h1v1h-1zM564 498h1v1h-1zM565 498h1v1h-1zM566 498h1v1h-1zM567 498h1v1h-1zM568 498h1v1h-1zM569 498h1v1h-1zM570 498h1v1h-1zM571 498h1v1h-1zM572 498h1v1h-1zM573 498h1v1h-1zM574 498h1v1h-1zM575 498h1v1h-1zM576 498h1v1h-1zM577 497h1v1h-1zM578 497h1v1h-1zM579 497h1v1h-1zM580 497h1v1h-1zM581 497h1v1h-1zM582 497h1v1h-1zM583 496h1v1h-1zM584 496h1v1h-1zM585 496h1v1h-1zM586 496h1v1h-1zM587 496h1v1h-1zM588 496h1v1h-1zM589 496h1v1h-1zM590 496h1v1h-1zM591 496h1v1h-1zM592 496h1v1h-1zM593 496h1v1h-1zM594 496h1v1h-1zM595 496h1v1h-1zM596 496h1v1h-1zM597 496h1v1h-1zM598 496h1v1h-1zM599 496h1v1h-1zM600 496h1v1h-1zM601 496h1v1h-1zM602 496h1v1h-1zM603 496h1v1h-1zM604 496h1v1h-1zM605 496h1v1h-1zM606 496h1v1h-1zM607 496h1v1h-1zM608 496h1v1h-1zM609 496h1v1h-1zM610 496h1v1h-1zM611 496h1v1h-1zM612 496h1v1h-1zM613 496h1v1h-1zM614 496h1v1h-1zM615 496h1v1h-1zM616 496h1v1h-1zM617 497h1v1h-1zM618 497h1v1h-1zM619 498h1v1h-1zM620 498h1v1h-1zM621 499h1v1h-1zM622 499h1v1h-1zM623 499h1v1h-1zM624 499h1v1h-1zM625 499h1v1h-1zM626 499h1v1h-1zM627 500h1v1h-1zM628 500h1v1h-1zM629 500h1v1h-1zM630 500h1v2h-1zM631 502h1v1h-1zM632 503h1v1h-1zM633 504h1v1h-1zM634 505h1v1h-1zM635 506h1v1h-1zM636 507h1v1h-1zM637 508h1v1h-1zM638 509h1v1h-1zM639 510h1v1h-1zM640 511h1v1h-1zM641 512h1v1h-1zM642 512h1v1h-1zM643 513h1v1h-1zM644 514h1v1h-1zM645 515h1v1h-1zM646 516h1v1h-1zM647 516h1v1h-1zM648 515h1v1h-1zM649 515h1v1h-1zM650 515h1v1h-1zM651 515h1v1h-1zM652 515h1v1h-1zM653 515h1v1h-1zM654 515h1v1h-1zM655 515h1v1h-1zM656 516h1v1h-1zM657 516h1v1h-1zM658 517h1v1h-1zM659 517h1v1h-1zM660 518h1v1h-1zM661 518h1v1h-1zM662 519h1v1h-1zM663 519h1v1h-1zM664 519h1v1h-1zM665 519h1v1h-1zM666 519h1v1h-1zM667 520h1v1h-1zM668 520h1v1h-1zM669 520h1v1h-1zM670 520h1v1h-1zM671 520h1v1h-1zM672 520h1v1h-1zM673 521h1v1h-1zM674 521h1v1h-1zM675 521h1v1h-1zM676 521h1v1h-1zM677 521h1v1h-1zM678 522h1v1h-1zM679 522h1v1h-1zM680 522h1v1h-1zM681 522h1v1h-1zM682 522h1v1h-1zM683 522h1v1h-1zM684 522h1v1h-1zM685 522h1v1h-1zM686 522h1v1h-1zM687 522h1v1h-1zM688 522h1v1h-1zM689 521h1v1h-1zM690 521h1v1h-1zM691 521h1v1h-1zM692 521h1v1h-1zM693 520h1v1h-1zM694 520h1v1h-1zM695 520h1v1h-1zM696 520h1v1h-1zM697 519h1v1h-1zM698 519h1v1h-1zM699 519h1v1h-1zM700 519h1v1h-1zM701 519h1v1h-1zM702 519h1v1h-1zM703 519h1v1h-1zM704 519h1v1h-1zM705 519h1v1h-1zM706 519h1v1h-1zM707 519h1v1h-1zM708 519h1v1h-1zM709 519h1v1h-1zM710 519h1v1h-1zM711 519h1v1h-1zM712 519h1v1h-1zM713 519h1v1h-1zM714 519h1v1h-1zM715 519h1v1h-1zM716 520h1v1h-1zM717 520h1v1h-1zM718 520h1v1h-1zM719 520h1v1h-1zM720 520h1v1h-1zM721 520h1v1h-1zM722 520h1v1h-1zM723 520h1v1h-1zM724 520h1v1h-1zM725 520h1v1h-1zM726 520h1v1h-1zM727 519h1v1h-1zM728 519h1v1h-1zM729 518h1v1h-1zM730 517h1v1h-1zM731 517h1v1h-1zM732 516h1v1h-1zM733 515h1v1h-1zM734 515h1v1h-1zM735 515h1v1h-1zM736 516h1v1h-1zM737 516h1v1h-1zM738 516h1v1h-1zM739 517h1v1h-1zM740 517h1v1h-1zM741 518h1v1h-1zM742 518h1v1h-1zM743 517h1v1h-1zM744 517h1v1h-1zM745 517h1v1h-1zM746 517h1v1h-1zM747 516h1v1h-1zM748 516h1v1h-1zM749 516h1v1h-1zM750 516h1v1h-1zM751 515h1v1h-1zM752 515h1v1h-1zM753 515h1v1h-1zM754 515h1v1h-1zM755 514h1v1h-1zM756 514h1v1h-1zM757 514h1v1h-1zM758 514h1v1h-1zM759 513h1v1h-1zM760 513h1v1h-1zM761 513h1v1h-1zM762 512h1v1h-1zM763 512h1v1h-1zM764 511h1v1h-1zM765 511h1v1h-1zM766 511h1v1h-1zM767 510h1v1h-1zM768 510h1v1h-1zM769 510h1v1h-1zM770 510h1v1h-1zM771 509h1v1h-1zM772 509h1v1h-1zM773 509h1v1h-1zM774 509h1v1h-1zM775 509h1v1h-1zM776 509h1v1h-1zM777 509h1v1h-1zM778 509h1v1h-1zM779 509h1v1h-1zM780 510h1v1h-1zM781 510h1v1h-1zM782 510h1v1h-1zM783 510h1v1h-1zM784 511h1v1h-1zM785 511h1v1h-1zM786 512h1v1h-1zM787 513h1v1h-1zM788 514h1v1h-1zM789 514h1v1h-1zM790 515h1v1h-1zM791 516h1v1h-1zM792 516h1v1h-1zM793 516h1v1h-1zM794 517h1v1h-1zM795 517h1v1h-1zM796 517h1v1h-1zM797 517h1v1h-1zM798 518h1v1h-1zM799 517h1v1h-1zM800 517h1v1h-1zM801 517h1v1h-1zM802 516h1v1h-1zM803 516h1v1h-1zM804 515h1v1h-1zM805 515h1v1h-1zM806 515h1v1h-1zM807 515h1v1h-1zM808 514h1v1h-1zM809 514h1v1h-1zM810 514h1v1h-1zM811 514h1v1h-1zM812 514h1v1h-1zM813 514h1v1h-1zM814 514h1v1h-1zM815 514h1v1h-1zM816 514h1v1h-1zM817 515h1v1h-1zM818 515h1v1h-1zM819 516h1v1h-1zM820 516h1v1h-1zM821 517h1v1h-1zM822 517h1v1h-1zM823 517h1v1h-1zM824 518h1v1h-1zM825 518h1v1h-1zM826 519h1v1h-1zM827 519h1v1h-1zM828 520h1v1h-1zM829 520h1v1h-1zM830 521h1v1h-1zM831 521h1v1h-1zM832 521h1v1h-1zM833 521h1v1h-1zM834 522h1v1h-1zM835 522h1v1h-1zM836 522h1v1h-1zM837 522h1v1h-1zM838 523h1v1h-1zM839 523h1v1h-1zM840 523h1v1h-1zM841 523h1v1h-1zM842 523h1v1h-1zM843 523h1v1h-1zM844 523h1v1h-1zM845 523h1v1h-1zM846 523h1v1h-1zM847 522h1v1h-1zM848 522h1v1h-1zM849 522h1v1h-1zM850 521h1v1h-1zM851 521h1v1h-1zM852 520h1v1h-1zM853 520h1v1h-1zM854 520h1v1h-1zM855 520h1v1h-1zM856 520h1v1h-1zM857 519h1v1h-1zM858 519h1v1h-1zM859 519h1v1h-1zM860 519h1v1h-1zM861 519h1v1h-1zM862 519h1v1h-1zM863 518h1v1h-1zM864 518h1v1h-1zM865 517h1v1h-1zM866 517h1v1h-1zM867 516h1v1h-1zM868 516h1v1h-1zM869 515h1v1h-1zM870 515h1v1h-1zM871 514h1v1h-1zM872 513h1v1h-1zM873 512h1v1h-1zM874 511h1v1h-1zM875 511h1v1h-1zM876 510h1v1h-1zM877 509h1v1h-1zM878 509h1v1h-1zM879 509h1v1h-1zM880 508h1v2h-1zM881 508h1v1h-1zM882 508h1v1h-1zM883 508h1v1h-1zM884 507h1v1h-1zM885 507h1v1h-1zM886 507h1v1h-1zM887 508h1v1h-1zM888 508h1v1h-1zM889 508h1v1h-1zM890 508h1v1h-1zM891 508h1v1h-1zM892 508h1v1h-1zM893 509h1v1h-1zM894 508h1v2h-1zM895 508h1v1h-1zM896 508h1v1h-1zM897 507h1v1h-1zM898 507h1v1h-1zM899 507h1v1h-1zM900 506h1v1h-1zM901 506h1v1h-1zM902 506h1v1h-1zM903 506h1v1h-1zM904 506h1v1h-1zM905 506h1v1h-1zM906 506h1v1h-1zM907 507h1v1h-1zM908 507h1v1h-1zM909 507h1v1h-1z"/>
<text x="10" y="489" font-size="10" fill="#000" textLength="68" lengthAdjust="spacingAndGlyphs" stroke="#000" stroke-width="0.25" >RSI(14) 53.9762</text>
<text x="1160" y="487" font-size="10" fill="#000" textLength="15" lengthAdjust="spacingAndGlyphs" stroke="#000" stroke-width="0.25" >100</text>
<text x="1159.5" y="501" font-size="10" fill="#000" textLength="9.7" lengthAdjust="spacingAndGlyphs" stroke="#000" stroke-width="0.25" >70</text>
<text x="1159.5" y="527" font-size="10" fill="#000" textLength="9.7" lengthAdjust="spacingAndGlyphs" stroke="#000" stroke-width="0.25" >30</text>
<text x="1159.5" y="540.5" font-size="10" fill="#000" textLength="4.8" lengthAdjust="spacingAndGlyphs" stroke="#000" stroke-width="0.25" >0</text>
<g shape-rendering="crispEdges">
<rect x="6" y="585" width="2" height="21" fill="#c0c0c0" />
<rect x="13" y="585" width="3" height="19" fill="#c0c0c0" />
<rect x="21" y="585" width="3" height="16" fill="#c0c0c0" />
<rect x="29" y="585" width="3" height="15" fill="#c0c0c0" />
<rect x="37" y="585" width="3" height="12" fill="#c0c0c0" />
<rect x="45" y="585" width="3" height="10" fill="#c0c0c0" />
<rect x="53" y="585" width="3" height="8" fill="#c0c0c0" />
<rect x="61" y="585" width="3" height="5" fill="#c0c0c0" />
<rect x="69" y="585" width="3" height="2" fill="#c0c0c0" />
<rect x="77" y="585" width="3" height="1" fill="#c0c0c0" />
<rect x="85" y="585" width="3" height="1" fill="#c0c0c0" />
<rect x="93" y="585" width="3" height="1" fill="#c0c0c0" />
<rect x="101" y="585" width="3" height="1" fill="#c0c0c0" />
<rect x="109" y="582" width="3" height="3" fill="#c0c0c0" />
<rect x="117" y="579" width="3" height="6" fill="#c0c0c0" />
<rect x="125" y="576" width="3" height="9" fill="#c0c0c0" />
<rect x="133" y="574" width="3" height="11" fill="#c0c0c0" />
<rect x="141" y="573" width="3" height="12" fill="#c0c0c0" />
<rect x="149" y="576" width="3" height="9" fill="#c0c0c0" />
<rect x="157" y="575" width="3" height="10" fill="#c0c0c0" />
<rect x="165" y="574" width="3" height="11" fill="#c0c0c0" />
<rect x="173" y="574" width="3" height="11" fill="#c0c0c0" />
<rect x="181" y="573" width="3" height="12" fill="#c0c0c0" />
<rect x="189" y="572" width="3" height="13" fill="#c0c0c0" />
<rect x="197" y="571" width="3" height="14" fill="#c0c0c0" />
<rect x="205" y="572" width="3" height="13" fill="#c0c0c0" />
<rect x="213" y="573" width="3" height="12" fill="#c0c0c0" />
<rect x="221" y="573" width="3" height="12" fill="#c0c0c0" />
<rect x="229" y="574" width="3" height="11" fill="#c0c0c0" />
<rect x="237" y="574" width="3" height="11" fill="#c0c0c0" />
<rect x="245" y="574" width="3" height="11" fill="#c0c0c0" />
<rect x="253" y="575" width="3" height="10" fill="#c0c0c0" />
<rect x="261" y="574" width="3" height="11" fill="#c0c0c0" />
<rect x="269" y="571" width="3" height="14" fill="#c0c0c0" />
<rect x="277" y="569" width="3" height="16" fill="#c0c0c0" />
<rect x="285" y="568" width="3" height="17" fill="#c0c0c0" />
<rect x="293" y="567" width="3" height="18" fill="#c0c0c0" />
<rect x="301" y="566" width="3" height="19" fill="#c0c0c0" />
<rect x="309" y="569" width="3" height="16" fill="#c0c0c0" />
<rect x="317" y="571" width="3" height="14" fill="#c0c0c0" />
<rect x="325" y="571" width="3" height="14" fill="#c0c0c0" />
<rect x="333" y="571" width="3" height="14" fill="#c0c0c0" />
<rect x="341" y="568" width="3" height="17" fill="#c0c0c0" />
<rect x="349" y="569" width="3" height="16" fill="#c0c0c0" />
<rect x="357" y="569" width="3" height="16" fill="#c0c0c0" />
<rect x="365" y="569" width="3" height="16" fill="#c0c0c0" />
<rect x="373" y="571" width="3" height="14" fill="#c0c0c0" />
<rect x="381" y="569" width="3" height="16" fill="#c0c0c0" />
<rect x="389" y="566" width="3" height="19" fill="#c0c0c0" />
<rect x="397" y="567" width="3" height="18" fill="#c0c0c0" />
<rect x="405" y="567" width="3" height="18" fill="#c0c0c0" />
<rect x="413" y="567" width="3" height="18" fill="#c0c0c0" />
<rect x="421" y="571" width="3" height="14" fill="#c0c0c0" />
<rect x="429" y="573" width="3" height="12" fill="#c0c0c0" />
<rect x="437" y="569" width="3" height="16" fill="#c0c0c0" />
<rect x="445" y="567" width="3" height="18" fill="#c0c0c0" />
<rect x="453" y="568" width="3" height="17" fill="#c0c0c0" />
<rect x="461" y="569" width="3" height="16" fill="#c0c0c0" />
<rect x="469" y="567" width="3" height="18" fill="#c0c0c0" />
<rect x="477" y="566" width="3" height="19" fill="#c0c0c0" />
<rect x="485" y="567" width="3" height="18" fill="#c0c0c0" />
<rect x="493" y="567" width="3" height="18" fill="#c0c0c0" />
<rect x="501" y="567" width="3" height="18" fill="#c0c0c0" />
<rect x="509" y="567" width="3" height="18" fill="#c0c0c0" />
<rect x="517" y="567" width="3" height="18" fill="#c0c0c0" />
<rect x="525" y="566" width="3" height="19" fill="#c0c0c0" />
<rect x="533" y="566" width="3" height="19" fill="#c0c0c0" />
<rect x="541" y="564" width="3" height="21" fill="#c0c0c0" />
<rect x="549" y="560" width="3" height="25" fill="#c0c0c0" />
<rect x="557" y="557" width="3" height="28" fill="#c0c0c0" />
<rect x="565" y="555" width="3" height="30" fill="#c0c0c0" />
<rect x="573" y="554" width="3" height="31" fill="#c0c0c0" />
<rect x="581" y="552" width="3" height="33" fill="#c0c0c0" />
<rect x="589" y="551" width="3" height="34" fill="#c0c0c0" />
<rect x="597" y="550" width="3" height="35" fill="#c0c0c0" />
<rect x="605" y="550" width="3" height="35" fill="#c0c0c0" />
<rect x="613" y="549" width="3" height="36" fill="#c0c0c0" />
<rect x="621" y="551" width="3" height="34" fill="#c0c0c0" />
<rect x="629" y="552" width="3" height="33" fill="#c0c0c0" />
<rect x="637" y="557" width="3" height="28" fill="#c0c0c0" />
<rect x="645" y="564" width="3" height="21" fill="#c0c0c0" />
<rect x="653" y="570" width="3" height="15" fill="#c0c0c0" />
<rect x="661" y="577" width="3" height="8" fill="#c0c0c0" />
<rect x="669" y="584" width="3" height="1" fill="#c0c0c0" />
<rect x="677" y="585" width="3" height="6" fill="#c0c0c0" />
<rect x="685" y="585" width="3" height="11" fill="#c0c0c0" />
<rect x="693" y="585" width="3" height="15" fill="#c0c0c0" />
<rect x="701" y="585" width="3" height="17" fill="#c0c0c0" />
<rect x="709" y="585" width="3" height="18" fill="#c0c0c0" />
<rect x="717" y="585" width="3" height="20" fill="#c0c0c0" />
<rect x="725" y="585" width="3" height="21" fill="#c0c0c0" />
<rect x="733" y="585" width="3" height="20" fill="#c0c0c0" />
<rect x="741" y="585" width="3" height="20" fill="#c0c0c0" />
<rect x="749" y="585" width="3" height="20" fill="#c0c0c0" />
<rect x="757" y="585" width="3" height="18" fill="#c0c0c0" />
<rect x="765" y="585" width="3" height="16" fill="#c0c0c0" />
<rect x="773" y="585" width="3" height="13" fill="#c0c0c0" />
<rect x="781" y="585" width="3" height="12" fill="#c0c0c0" />
<rect x="789" y="585" width="3" height="12" fill="#c0c0c0" />
<rect x="797" y="585" width="3" height="14" fill="#c0c0c0" />
<rect x="805" y="585" width="3" height="14" fill="#c0c0c0" />
<rect x="813" y="585" width="3" height="13" fill="#c0c0c0" />
<rect x="821" y="585" width="3" height="15" fill="#c0c0c0" />
<rect x="829" y="585" width="3" height="18" fill="#c0c0c0" />
<rect x="837" y="585" width="3" height="21" fill="#c0c0c0" />
<rect x="845" y="585" width="3" height="23" fill="#c0c0c0" />
<rect x="853" y="585" width="3" height="24" fill="#c0c0c0" />
<rect x="861" y="585" width="3" height="25" fill="#c0c0c0" />
<rect x="869" y="585" width="3" height="23" fill="#c0c0c0" />
<rect x="877" y="585" width="3" height="20" fill="#c0c0c0" />
<rect x="885" y="585" width="3" height="15" fill="#c0c0c0" />
<rect x="893" y="585" width="3" height="13" fill="#c0c0c0" />
<rect x="901" y="585" width="3" height="9" fill="#c0c0c0" />
<rect x="909" y="585" width="3" height="7" fill="#c0c0c0" />
<rect x="1157" y="585" width="2" height="1" fill="#000" />
<rect x="1157" y="605" width="2" height="1" fill="#000" />
</g>
<polyline fill="none" stroke="#ff0000" stroke-width="1.4" stroke-linejoin="round" points="6,600.5 47.5,600.5 57.5,598.8 75,593.8 100,588.2 125,583.8 140,581.2 155,580 170,577 190,574.2 205,573.2 230,573.2 235,572.2 250,572.2 252.5,573.2 280,573.2 290,571.5 305,571.2 308.8,570.2 320,570.2 323.8,569.2 370,569.2 373.8,570.2 382.5,570.2 388.8,569.2 400,569.2 405,568.2 417.5,568.2 421.2,569.2 446.2,569.2 451.2,568.2 457.5,568.2 461.2,569.2 487.5,569.2 497.5,567.2 535,566.8 540,565.8 552.5,565.8 565,563.2 577.5,561.2 592.5,556.8 605,554.5 617.5,552.5 630,551.2 642.5,552.5 655,555.5 667.5,560.5 680,566.8 692.5,574.5 705,583.8 717.5,591.2 730,597.5 742.5,601.2 755,603.5 767.5,603.5 780,602 792.5,600.8 805,599.2 817.5,598.8 830,598.2 842.5,600 855,601.8 867.5,603.8 880,604.2 895,604.2 902.5,603 910,602"/>
<text x="10" y="558" font-size="10" fill="#000" textLength="154" lengthAdjust="spacingAndGlyphs" stroke="#000" stroke-width="0.25" >MACD(12,26,9) -0.001577 -0.004593</text>
<text x="1160" y="556" font-size="10" fill="#000" textLength="37" lengthAdjust="spacingAndGlyphs" stroke="#000" stroke-width="0.25" >0.010525</text>
<text x="1160" y="589" font-size="10" fill="#000" textLength="17.5" lengthAdjust="spacingAndGlyphs" stroke="#000" stroke-width="0.25" >0.00</text>
<text x="1160" y="609" font-size="10" fill="#000" textLength="31" lengthAdjust="spacingAndGlyphs" stroke="#000" stroke-width="0.25" >-0.0073</text>
<g shape-rendering="crispEdges">
<rect x="6" y="613" width="1" height="3" fill="#000" />
<rect x="70" y="613" width="1" height="3" fill="#000" />
<rect x="134" y="613" width="1" height="3" fill="#000" />
<rect x="198" y="613" width="1" height="3" fill="#000" />
<rect x="262" y="613" width="1" height="3" fill="#000" />
<rect x="326" y="613" width="1" height="3" fill="#000" />
<rect x="390" y="613" width="1" height="3" fill="#000" />
<rect x="454" y="613" width="1" height="3" fill="#000" />
<rect x="518" y="613" width="1" height="3" fill="#000" />
<rect x="582" y="613" width="1" height="3" fill="#000" />
<rect x="646" y="613" width="1" height="3" fill="#000" />
<rect x="710" y="613" width="1" height="3" fill="#000" />
<rect x="774" y="613" width="1" height="3" fill="#000" />
<rect x="838" y="613" width="1" height="3" fill="#000" />
<rect x="902" y="613" width="1" height="3" fill="#000" />
</g>
<text x="5.5" y="625" font-size="10" fill="#000" textLength="45.5" lengthAdjust="spacingAndGlyphs" stroke="#000" stroke-width="0.25" >3 Oct 2018</text>
<text x="70" y="625" font-size="10" fill="#000" textLength="50.3" lengthAdjust="spacingAndGlyphs" stroke="#000" stroke-width="0.25" >12 Oct 2018</text>
<text x="134" y="625" font-size="10" fill="#000" textLength="50.3" lengthAdjust="spacingAndGlyphs" stroke="#000" stroke-width="0.25" >22 Oct 2018</text>
<text x="198" y="625" font-size="10" fill="#000" textLength="50.3" lengthAdjust="spacingAndGlyphs" stroke="#000" stroke-width="0.25" >31 Oct 2018</text>
<text x="262" y="625" font-size="10" fill="#000" textLength="45.5" lengthAdjust="spacingAndGlyphs" stroke="#000" stroke-width="0.25" >9 Nov 2018</text>
<text x="326" y="625" font-size="10" fill="#000" textLength="50.3" lengthAdjust="spacingAndGlyphs" stroke="#000" stroke-width="0.25" >19 Nov 2018</text>
<text x="390" y="625" font-size="10" fill="#000" textLength="50.3" lengthAdjust="spacingAndGlyphs" stroke="#000" stroke-width="0.25" >28 Nov 2018</text>
<text x="454" y="625" font-size="10" fill="#000" textLength="45.5" lengthAdjust="spacingAndGlyphs" stroke="#000" stroke-width="0.25" >7 Dec 2018</text>
<text x="518" y="625" font-size="10" fill="#000" textLength="50.3" lengthAdjust="spacingAndGlyphs" stroke="#000" stroke-width="0.25" >17 Dec 2018</text>
<text x="582" y="625" font-size="10" fill="#000" textLength="50.3" lengthAdjust="spacingAndGlyphs" stroke="#000" stroke-width="0.25" >26 Dec 2018</text>
<text x="646" y="625" font-size="10" fill="#000" textLength="45.5" lengthAdjust="spacingAndGlyphs" stroke="#000" stroke-width="0.25" >4 Jan 2019</text>
<text x="710" y="625" font-size="10" fill="#000" textLength="50.3" lengthAdjust="spacingAndGlyphs" stroke="#000" stroke-width="0.25" >14 Jan 2019</text>
<text x="774" y="625" font-size="10" fill="#000" textLength="50.3" lengthAdjust="spacingAndGlyphs" stroke="#000" stroke-width="0.25" >23 Jan 2019</text>
<text x="838" y="625" font-size="10" fill="#000" textLength="45.5" lengthAdjust="spacingAndGlyphs" stroke="#000" stroke-width="0.25" >1 Feb 2019</text>
<text x="902" y="625" font-size="10" fill="#000" textLength="50.3" lengthAdjust="spacingAndGlyphs" stroke="#000" stroke-width="0.25" >11 Feb 2019</text>
<g shape-rendering="crispEdges">
<rect x="3" y="636" width="1197" height="18" fill="#f0f0f0" />
<rect x="3" y="654" width="1200" height="1" fill="#f0f0f0" />
<rect x="0" y="655" width="1200" height="1" fill="#fcfcfc" />
<rect x="0" y="656" width="1200" height="3" fill="#ececec" />
<rect x="0" y="659" width="1200" height="1" fill="#a8a8a8" />
<rect x="0" y="660" width="1200" height="1" fill="#f4f4f4" />
<rect x="0" y="636" width="1" height="18" fill="#f0f0f0" />
<rect x="2" y="635" width="1198" height="1" fill="#000" />
<rect x="0" y="654" width="3" height="1" fill="#7a7a7a" />
<rect x="304" y="635" width="103" height="18" fill="#fff" />
<rect x="303" y="635" width="1" height="19" fill="#000" />
<rect x="406" y="635" width="2" height="19" fill="#000" />
<rect x="303" y="653" width="105" height="1" fill="#000" />
<rect x="99" y="639" width="1" height="13" fill="#707070" />
<rect x="203" y="639" width="1" height="13" fill="#707070" />
<rect x="511" y="639" width="1" height="13" fill="#707070" />
<rect x="607" y="639" width="1" height="13" fill="#707070" />
<rect x="699" y="639" width="1" height="13" fill="#707070" />
<rect x="815" y="639" width="1" height="13" fill="#707070" />
<rect x="903" y="639" width="1" height="13" fill="#707070" />
<rect x="1007" y="639" width="1" height="13" fill="#707070" />
<rect x="1075" y="639" width="1" height="13" fill="#707070" />
</g>
<text x="19.5" y="649.6" font-size="12.6" fill="#666b72" textLength="67.5" lengthAdjust="spacingAndGlyphs" >EURUSD,H4</text>
<text x="110" y="649.6" font-size="12.6" fill="#666b72" textLength="82" lengthAdjust="spacingAndGlyphs" >AUDUSD,Daily</text>
<text x="213.2" y="649.6" font-size="12.6" fill="#666b72" textLength="78.8" lengthAdjust="spacingAndGlyphs" >USDCHF,Daily</text>
<text x="314.2" y="649.6" font-size="12.6" fill="#000" textLength="80.8" lengthAdjust="spacingAndGlyphs" >USDCAD,Daily</text>
<text x="417.5" y="649.6" font-size="12.6" fill="#666b72" textLength="82.5" lengthAdjust="spacingAndGlyphs" >USDCNH,Daily</text>
<text x="521.2" y="649.6" font-size="12.6" fill="#666b72" textLength="75.0" lengthAdjust="spacingAndGlyphs" >USDJPY,Daily</text>
<text x="618" y="649.6" font-size="12.6" fill="#666b72" textLength="69" lengthAdjust="spacingAndGlyphs" >XAUUSD,H1</text>
<text x="710.5" y="649.6" font-size="12.6" fill="#666b72" textLength="93.3" lengthAdjust="spacingAndGlyphs" >GBPUSD,Weekly</text>
<text x="827" y="649.6" font-size="12.6" fill="#666b72" textLength="63.6" lengthAdjust="spacingAndGlyphs" >SP500,M15</text>
<text x="914.8" y="649.6" font-size="12.6" fill="#666b72" textLength="80.3" lengthAdjust="spacingAndGlyphs" >GBPUSD,Daily</text>
<text x="1017.7" y="649.6" font-size="12.6" fill="#666b72" textLength="46.2" lengthAdjust="spacingAndGlyphs" >DJ30,H4</text>
<text x="1085.3" y="649.6" font-size="12.6" fill="#666b72" textLength="70.2" lengthAdjust="spacingAndGlyphs" >TECH100,H1</text>
<path d="M1175.2 641.2 L1175.2 647.2 L1171.8 644.2 Z" fill="#9a9a9a"/>
<path d="M1191 641 L1191 647.4 L1194.6 644.2 Z" fill="#000"/>
</svg>
</body></html>
